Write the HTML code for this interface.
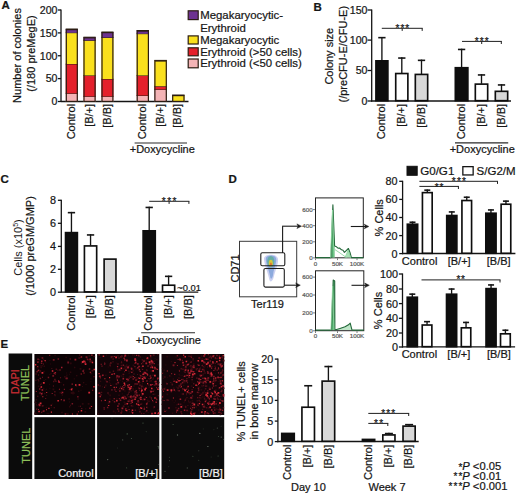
<!DOCTYPE html>
<html><head><meta charset="utf-8"><title>Figure</title>
<style>
html,body{margin:0;padding:0;background:#ffffff;}
body{width:520px;height:495px;overflow:hidden;}
svg{display:block;font-family:"Liberation Sans", sans-serif;}

</style></head><body>
<svg width="520" height="495" viewBox="0 0 520 495">
<rect x="0" y="0" width="520" height="495" fill="#ffffff"/>
<text x="1.60" y="9.30" font-size="11.5" text-anchor="start" fill="#161616" font-weight="bold" stroke="#161616" stroke-width="0.22">A</text>
<line x1="61.00" y1="9.45" x2="61.00" y2="102.05" stroke="#141414" stroke-width="1.3"/>
<line x1="57.80" y1="10.00" x2="61.00" y2="10.00" stroke="#141414" stroke-width="1.3"/>
<text x="57.50" y="13.84" font-size="10.6" text-anchor="end" fill="#161616"  stroke="#161616" stroke-width="0.22">200</text>
<line x1="57.80" y1="32.90" x2="61.00" y2="32.90" stroke="#141414" stroke-width="1.3"/>
<text x="57.50" y="36.74" font-size="10.6" text-anchor="end" fill="#161616"  stroke="#161616" stroke-width="0.22">150</text>
<line x1="57.80" y1="55.75" x2="61.00" y2="55.75" stroke="#141414" stroke-width="1.3"/>
<text x="57.50" y="59.59" font-size="10.6" text-anchor="end" fill="#161616"  stroke="#161616" stroke-width="0.22">100</text>
<line x1="57.80" y1="78.60" x2="61.00" y2="78.60" stroke="#141414" stroke-width="1.3"/>
<text x="57.50" y="82.44" font-size="10.6" text-anchor="end" fill="#161616"  stroke="#161616" stroke-width="0.22">50</text>
<line x1="57.80" y1="101.50" x2="61.00" y2="101.50" stroke="#141414" stroke-width="1.3"/>
<text x="57.50" y="105.34" font-size="10.6" text-anchor="end" fill="#161616"  stroke="#161616" stroke-width="0.22">0</text>
<line x1="61.00" y1="101.50" x2="188.50" y2="101.50" stroke="#141414" stroke-width="1.3"/>
<rect x="65.70" y="93.40" width="12.20" height="8.10" fill="#f4b4b6" />
<line x1="65.70" y1="93.40" x2="77.90" y2="93.40" stroke="#2b1c12" stroke-width="1"/>
<rect x="65.70" y="64.00" width="12.20" height="29.40" fill="#e4202b" />
<line x1="65.70" y1="64.00" x2="77.90" y2="64.00" stroke="#2b1c12" stroke-width="1"/>
<rect x="65.70" y="32.70" width="12.20" height="31.30" fill="#fae01d" />
<line x1="65.70" y1="32.70" x2="77.90" y2="32.70" stroke="#2b1c12" stroke-width="1"/>
<rect x="65.70" y="29.00" width="12.20" height="3.70" fill="#6d3290" />
<line x1="65.70" y1="29.00" x2="77.90" y2="29.00" stroke="#2b1c12" stroke-width="1"/>
<rect x="66.30" y="29.60" width="11.00" height="71.80" fill="none" stroke="#2b1c12" stroke-width="1.2"/>
<rect x="83.40" y="96.40" width="12.30" height="5.10" fill="#f4b4b6" />
<line x1="83.40" y1="96.40" x2="95.70" y2="96.40" stroke="#2b1c12" stroke-width="1"/>
<rect x="83.40" y="75.40" width="12.30" height="21.00" fill="#e4202b" />
<line x1="83.40" y1="75.40" x2="95.70" y2="75.40" stroke="#2b1c12" stroke-width="1"/>
<rect x="83.40" y="40.40" width="12.30" height="35.00" fill="#fae01d" />
<line x1="83.40" y1="40.40" x2="95.70" y2="40.40" stroke="#2b1c12" stroke-width="1"/>
<rect x="83.40" y="37.20" width="12.30" height="3.20" fill="#6d3290" />
<line x1="83.40" y1="37.20" x2="95.70" y2="37.20" stroke="#2b1c12" stroke-width="1"/>
<rect x="84.00" y="37.80" width="11.10" height="63.60" fill="none" stroke="#2b1c12" stroke-width="1.2"/>
<rect x="101.40" y="96.40" width="12.10" height="5.10" fill="#f4b4b6" />
<line x1="101.40" y1="96.40" x2="113.50" y2="96.40" stroke="#2b1c12" stroke-width="1"/>
<rect x="101.40" y="79.00" width="12.10" height="17.40" fill="#e4202b" />
<line x1="101.40" y1="79.00" x2="113.50" y2="79.00" stroke="#2b1c12" stroke-width="1"/>
<rect x="101.40" y="37.50" width="12.10" height="41.50" fill="#fae01d" />
<line x1="101.40" y1="37.50" x2="113.50" y2="37.50" stroke="#2b1c12" stroke-width="1"/>
<rect x="101.40" y="32.00" width="12.10" height="5.50" fill="#6d3290" />
<line x1="101.40" y1="32.00" x2="113.50" y2="32.00" stroke="#2b1c12" stroke-width="1"/>
<rect x="102.00" y="32.60" width="10.90" height="68.80" fill="none" stroke="#2b1c12" stroke-width="1.2"/>
<rect x="136.60" y="95.50" width="12.40" height="6.00" fill="#f4b4b6" />
<line x1="136.60" y1="95.50" x2="149.00" y2="95.50" stroke="#2b1c12" stroke-width="1"/>
<rect x="136.60" y="75.40" width="12.40" height="20.10" fill="#e4202b" />
<line x1="136.60" y1="75.40" x2="149.00" y2="75.40" stroke="#2b1c12" stroke-width="1"/>
<rect x="136.60" y="33.70" width="12.40" height="41.70" fill="#fae01d" />
<line x1="136.60" y1="33.70" x2="149.00" y2="33.70" stroke="#2b1c12" stroke-width="1"/>
<rect x="136.60" y="30.50" width="12.40" height="3.20" fill="#6d3290" />
<line x1="136.60" y1="30.50" x2="149.00" y2="30.50" stroke="#2b1c12" stroke-width="1"/>
<rect x="137.20" y="31.10" width="11.20" height="70.30" fill="none" stroke="#2b1c12" stroke-width="1.2"/>
<rect x="154.30" y="89.40" width="12.60" height="12.10" fill="#f4b4b6" />
<line x1="154.30" y1="89.40" x2="166.90" y2="89.40" stroke="#2b1c12" stroke-width="1"/>
<rect x="154.30" y="86.20" width="12.60" height="3.20" fill="#e4202b" />
<line x1="154.30" y1="86.20" x2="166.90" y2="86.20" stroke="#2b1c12" stroke-width="1"/>
<rect x="154.30" y="60.40" width="12.60" height="25.80" fill="#fae01d" />
<line x1="154.30" y1="60.40" x2="166.90" y2="60.40" stroke="#2b1c12" stroke-width="1"/>
<rect x="154.90" y="61.00" width="11.40" height="40.40" fill="none" stroke="#2b1c12" stroke-width="1.2"/>
<rect x="172.10" y="95.00" width="12.50" height="6.50" fill="#fae01d" />
<line x1="172.10" y1="95.00" x2="184.60" y2="95.00" stroke="#2b1c12" stroke-width="1"/>
<rect x="172.70" y="95.60" width="11.30" height="5.80" fill="none" stroke="#2b1c12" stroke-width="1.2"/>
<text transform="translate(74.90,103.90) rotate(-90)" font-size="11" text-anchor="end" fill="#161616"  stroke="#161616" stroke-width="0.22">Control</text>
<text transform="translate(92.65,103.90) rotate(-90)" font-size="11" text-anchor="end" fill="#161616"  stroke="#161616" stroke-width="0.22">[B/+]</text>
<text transform="translate(110.55,103.90) rotate(-90)" font-size="11" text-anchor="end" fill="#161616"  stroke="#161616" stroke-width="0.22">[B/B]</text>
<text transform="translate(145.90,103.90) rotate(-90)" font-size="11" text-anchor="end" fill="#161616"  stroke="#161616" stroke-width="0.22">Control</text>
<text transform="translate(163.70,103.90) rotate(-90)" font-size="11" text-anchor="end" fill="#161616"  stroke="#161616" stroke-width="0.22">[B/+]</text>
<text transform="translate(181.45,103.90) rotate(-90)" font-size="11" text-anchor="end" fill="#161616"  stroke="#161616" stroke-width="0.22">[B/B]</text>
<line x1="134.60" y1="143.00" x2="187.00" y2="143.00" stroke="#2a2a2a" stroke-width="1.1"/>
<text x="162.30" y="152.70" font-size="11" text-anchor="middle" fill="#161616"  stroke="#161616" stroke-width="0.22">+Doxycycline</text>
<text transform="translate(21.30,55.50) rotate(-90)" font-size="11" text-anchor="middle" fill="#161616"  stroke="#161616" stroke-width="0.22">Number of colonies</text>
<text transform="translate(34.80,53.50) rotate(-90)" font-size="11" text-anchor="middle" fill="#161616"  stroke="#161616" stroke-width="0.22">(/180 preMegE)</text>
<rect x="188.20" y="10.80" width="10.00" height="8.80" fill="#6d3290" stroke="#2b1c12" stroke-width="1.2"/>
<rect x="188.20" y="35.90" width="10.00" height="8.10" fill="#fae01d" stroke="#2b1c12" stroke-width="1.2"/>
<rect x="188.20" y="47.80" width="10.00" height="8.00" fill="#e4202b" stroke="#2b1c12" stroke-width="1.2"/>
<rect x="188.20" y="59.00" width="10.00" height="8.80" fill="#f4b4b6" stroke="#2b1c12" stroke-width="1.2"/>
<text x="200.20" y="19.20" font-size="11.4" text-anchor="start" fill="#161616"  stroke="#161616" stroke-width="0.22">Megakaryocytic-</text>
<text x="200.20" y="31.80" font-size="11.4" text-anchor="start" fill="#161616"  stroke="#161616" stroke-width="0.22">Erythroid</text>
<text x="200.20" y="43.60" font-size="11.4" text-anchor="start" fill="#161616"  stroke="#161616" stroke-width="0.22">Megakaryocytic</text>
<text x="200.20" y="55.60" font-size="11.4" text-anchor="start" fill="#161616"  stroke="#161616" stroke-width="0.22">Erythroid (&gt;50 cells)</text>
<text x="200.20" y="67.10" font-size="11.4" text-anchor="start" fill="#161616"  stroke="#161616" stroke-width="0.22">Erythroid (&lt;50 cells)</text>
<text x="313.40" y="10.60" font-size="11.5" text-anchor="start" fill="#161616" font-weight="bold" stroke="#161616" stroke-width="0.22">B</text>
<line x1="371.70" y1="9.45" x2="371.70" y2="101.55" stroke="#141414" stroke-width="1.3"/>
<line x1="367.50" y1="10.00" x2="371.70" y2="10.00" stroke="#141414" stroke-width="1.3"/>
<text x="367.50" y="13.84" font-size="10.6" text-anchor="end" fill="#161616"  stroke="#161616" stroke-width="0.22">150</text>
<line x1="367.50" y1="40.10" x2="371.70" y2="40.10" stroke="#141414" stroke-width="1.3"/>
<text x="367.50" y="43.94" font-size="10.6" text-anchor="end" fill="#161616"  stroke="#161616" stroke-width="0.22">100</text>
<line x1="367.50" y1="70.50" x2="371.70" y2="70.50" stroke="#141414" stroke-width="1.3"/>
<text x="367.50" y="74.34" font-size="10.6" text-anchor="end" fill="#161616"  stroke="#161616" stroke-width="0.22">50</text>
<line x1="367.50" y1="101.00" x2="371.70" y2="101.00" stroke="#141414" stroke-width="1.3"/>
<text x="367.50" y="104.84" font-size="10.6" text-anchor="end" fill="#161616"  stroke="#161616" stroke-width="0.22">0</text>
<line x1="371.00" y1="101.00" x2="511.00" y2="101.00" stroke="#141414" stroke-width="1.4"/>
<line x1="381.90" y1="36.90" x2="381.90" y2="60.50" stroke="#141414" stroke-width="1.35"/>
<line x1="378.25" y1="37.65" x2="385.55" y2="37.65" stroke="#141414" stroke-width="1.6"/>
<rect x="375.93" y="60.83" width="11.95" height="39.85" fill="#0e0e0e" stroke="#0e0e0e" stroke-width="1.65"/>
<line x1="401.80" y1="57.30" x2="401.80" y2="73.20" stroke="#141414" stroke-width="1.35"/>
<line x1="398.15" y1="58.05" x2="405.45" y2="58.05" stroke="#141414" stroke-width="1.6"/>
<rect x="395.72" y="73.53" width="12.15" height="27.15" fill="#ffffff" stroke="#0e0e0e" stroke-width="1.65"/>
<line x1="421.50" y1="59.60" x2="421.50" y2="74.10" stroke="#141414" stroke-width="1.35"/>
<line x1="417.85" y1="60.35" x2="425.15" y2="60.35" stroke="#141414" stroke-width="1.6"/>
<rect x="415.32" y="74.42" width="12.35" height="26.25" fill="#d8d8d8" stroke="#0e0e0e" stroke-width="1.65"/>
<line x1="461.60" y1="48.70" x2="461.60" y2="67.40" stroke="#141414" stroke-width="1.35"/>
<line x1="457.95" y1="49.45" x2="465.25" y2="49.45" stroke="#141414" stroke-width="1.6"/>
<rect x="455.32" y="67.73" width="12.55" height="32.95" fill="#0e0e0e" stroke="#0e0e0e" stroke-width="1.65"/>
<line x1="481.50" y1="74.20" x2="481.50" y2="83.80" stroke="#141414" stroke-width="1.35"/>
<line x1="477.85" y1="74.95" x2="485.15" y2="74.95" stroke="#141414" stroke-width="1.6"/>
<rect x="475.32" y="84.12" width="12.35" height="16.55" fill="#ffffff" stroke="#0e0e0e" stroke-width="1.65"/>
<line x1="501.50" y1="84.20" x2="501.50" y2="91.00" stroke="#141414" stroke-width="1.35"/>
<line x1="497.85" y1="84.95" x2="505.15" y2="84.95" stroke="#141414" stroke-width="1.6"/>
<rect x="495.32" y="91.33" width="12.35" height="9.35" fill="#d8d8d8" stroke="#0e0e0e" stroke-width="1.65"/>
<text transform="translate(385.00,103.90) rotate(-90)" font-size="11" text-anchor="end" fill="#161616"  stroke="#161616" stroke-width="0.22">Control</text>
<text transform="translate(404.90,103.90) rotate(-90)" font-size="11" text-anchor="end" fill="#161616"  stroke="#161616" stroke-width="0.22">[B/+]</text>
<text transform="translate(424.60,103.90) rotate(-90)" font-size="11" text-anchor="end" fill="#161616"  stroke="#161616" stroke-width="0.22">[B/B]</text>
<text transform="translate(464.70,103.90) rotate(-90)" font-size="11" text-anchor="end" fill="#161616"  stroke="#161616" stroke-width="0.22">Control</text>
<text transform="translate(484.60,103.90) rotate(-90)" font-size="11" text-anchor="end" fill="#161616"  stroke="#161616" stroke-width="0.22">[B/+]</text>
<text transform="translate(504.60,103.90) rotate(-90)" font-size="11" text-anchor="end" fill="#161616"  stroke="#161616" stroke-width="0.22">[B/B]</text>
<line x1="381.80" y1="28.30" x2="422.70" y2="28.30" stroke="#1e1e1e" stroke-width="1"/>
<line x1="422.20" y1="28.30" x2="422.20" y2="30.90" stroke="#1e1e1e" stroke-width="1"/>
<line x1="402.20" y1="28.30" x2="402.20" y2="30.90" stroke="#1e1e1e" stroke-width="1"/>
<text x="397.45" y="32.18" font-size="10" text-anchor="middle" fill="#161616"  stroke="#161616" stroke-width="0.22">*</text>
<text x="402.35" y="32.18" font-size="10" text-anchor="middle" fill="#161616"  stroke="#161616" stroke-width="0.22">*</text>
<text x="407.25" y="32.18" font-size="10" text-anchor="middle" fill="#161616"  stroke="#161616" stroke-width="0.22">*</text>
<line x1="462.00" y1="41.40" x2="501.80" y2="41.40" stroke="#1e1e1e" stroke-width="1"/>
<line x1="501.30" y1="41.40" x2="501.30" y2="44.00" stroke="#1e1e1e" stroke-width="1"/>
<line x1="481.70" y1="41.40" x2="481.70" y2="44.00" stroke="#1e1e1e" stroke-width="1"/>
<text x="476.75" y="45.43" font-size="10" text-anchor="middle" fill="#161616"  stroke="#161616" stroke-width="0.22">*</text>
<text x="481.75" y="45.43" font-size="10" text-anchor="middle" fill="#161616"  stroke="#161616" stroke-width="0.22">*</text>
<text x="486.75" y="45.43" font-size="10" text-anchor="middle" fill="#161616"  stroke="#161616" stroke-width="0.22">*</text>
<line x1="455.00" y1="142.90" x2="508.20" y2="142.90" stroke="#2a2a2a" stroke-width="1.1"/>
<text x="482.20" y="152.70" font-size="11" text-anchor="middle" fill="#161616"  stroke="#161616" stroke-width="0.22">+Doxycycline</text>
<text transform="translate(333.30,56.20) rotate(-90)" font-size="11" text-anchor="middle" fill="#161616"  stroke="#161616" stroke-width="0.22">Colony size</text>
<text transform="translate(346.70,54.20) rotate(-90)" font-size="11" text-anchor="middle" fill="#161616"  stroke="#161616" stroke-width="0.22">(/preCFU-E/CFU-E)</text>
<text x="0.40" y="182.70" font-size="11.5" text-anchor="start" fill="#161616" font-weight="bold" stroke="#161616" stroke-width="0.22">C</text>
<line x1="61.30" y1="199.75" x2="61.30" y2="292.75" stroke="#141414" stroke-width="1.3"/>
<line x1="57.90" y1="200.30" x2="61.30" y2="200.30" stroke="#141414" stroke-width="1.3"/>
<text x="56.10" y="204.21" font-size="10.8" text-anchor="end" fill="#161616"  stroke="#161616" stroke-width="0.22">8</text>
<line x1="57.90" y1="223.30" x2="61.30" y2="223.30" stroke="#141414" stroke-width="1.3"/>
<text x="56.10" y="227.21" font-size="10.8" text-anchor="end" fill="#161616"  stroke="#161616" stroke-width="0.22">6</text>
<line x1="57.90" y1="246.40" x2="61.30" y2="246.40" stroke="#141414" stroke-width="1.3"/>
<text x="56.10" y="250.31" font-size="10.8" text-anchor="end" fill="#161616"  stroke="#161616" stroke-width="0.22">4</text>
<line x1="57.90" y1="269.30" x2="61.30" y2="269.30" stroke="#141414" stroke-width="1.3"/>
<text x="56.10" y="273.21" font-size="10.8" text-anchor="end" fill="#161616"  stroke="#161616" stroke-width="0.22">2</text>
<line x1="57.90" y1="292.20" x2="61.30" y2="292.20" stroke="#141414" stroke-width="1.3"/>
<text x="56.10" y="296.11" font-size="10.8" text-anchor="end" fill="#161616"  stroke="#161616" stroke-width="0.22">0</text>
<line x1="61.30" y1="292.20" x2="198.30" y2="292.20" stroke="#141414" stroke-width="1.3"/>
<line x1="71.45" y1="211.90" x2="71.45" y2="232.30" stroke="#141414" stroke-width="1.35"/>
<line x1="67.80" y1="212.65" x2="75.10" y2="212.65" stroke="#141414" stroke-width="1.6"/>
<rect x="65.53" y="232.62" width="11.85" height="59.25" fill="#0e0e0e" stroke="#0e0e0e" stroke-width="1.65"/>
<line x1="90.55" y1="234.20" x2="90.55" y2="245.60" stroke="#141414" stroke-width="1.35"/>
<line x1="86.90" y1="234.95" x2="94.20" y2="234.95" stroke="#141414" stroke-width="1.6"/>
<rect x="84.42" y="245.92" width="12.25" height="45.95" fill="#ffffff" stroke="#0e0e0e" stroke-width="1.65"/>
<rect x="104.12" y="259.12" width="11.85" height="32.75" fill="#d8d8d8" stroke="#0e0e0e" stroke-width="1.65"/>
<line x1="149.20" y1="206.70" x2="149.20" y2="230.50" stroke="#141414" stroke-width="1.35"/>
<line x1="145.55" y1="207.45" x2="152.85" y2="207.45" stroke="#141414" stroke-width="1.6"/>
<rect x="143.12" y="230.82" width="12.15" height="61.05" fill="#0e0e0e" stroke="#0e0e0e" stroke-width="1.65"/>
<line x1="168.60" y1="275.60" x2="168.60" y2="284.90" stroke="#141414" stroke-width="1.35"/>
<line x1="164.95" y1="276.35" x2="172.25" y2="276.35" stroke="#141414" stroke-width="1.6"/>
<rect x="162.52" y="285.22" width="12.15" height="6.65" fill="#ffffff" stroke="#0e0e0e" stroke-width="1.65"/>
<text transform="translate(74.55,295.20) rotate(-90)" font-size="11" text-anchor="end" fill="#161616"  stroke="#161616" stroke-width="0.22">Control</text>
<text transform="translate(93.65,295.20) rotate(-90)" font-size="11" text-anchor="end" fill="#161616"  stroke="#161616" stroke-width="0.22">[B/+]</text>
<text transform="translate(113.15,295.20) rotate(-90)" font-size="11" text-anchor="end" fill="#161616"  stroke="#161616" stroke-width="0.22">[B/B]</text>
<text transform="translate(152.30,295.20) rotate(-90)" font-size="11" text-anchor="end" fill="#161616"  stroke="#161616" stroke-width="0.22">Control</text>
<text transform="translate(171.70,295.20) rotate(-90)" font-size="11" text-anchor="end" fill="#161616"  stroke="#161616" stroke-width="0.22">[B/+]</text>
<text transform="translate(191.70,295.20) rotate(-90)" font-size="11" text-anchor="end" fill="#161616"  stroke="#161616" stroke-width="0.22">[B/B]</text>
<text x="177.20" y="291.20" font-size="9.4" text-anchor="start" fill="#161616"  stroke="#161616" stroke-width="0.22">~0.01</text>
<line x1="149.20" y1="201.30" x2="189.40" y2="201.30" stroke="#1e1e1e" stroke-width="1"/>
<line x1="188.90" y1="201.30" x2="188.90" y2="203.90" stroke="#1e1e1e" stroke-width="1"/>
<line x1="169.10" y1="201.30" x2="169.10" y2="203.90" stroke="#1e1e1e" stroke-width="1"/>
<text x="163.70" y="205.33" font-size="10" text-anchor="middle" fill="#161616"  stroke="#161616" stroke-width="0.22">*</text>
<text x="169.10" y="205.33" font-size="10" text-anchor="middle" fill="#161616"  stroke="#161616" stroke-width="0.22">*</text>
<text x="174.50" y="205.33" font-size="10" text-anchor="middle" fill="#161616"  stroke="#161616" stroke-width="0.22">*</text>
<line x1="141.20" y1="332.80" x2="195.00" y2="332.80" stroke="#2a2a2a" stroke-width="1.1"/>
<text x="168.40" y="344.10" font-size="11" text-anchor="middle" fill="#161616"  stroke="#161616" stroke-width="0.22">+Doxycycline</text>
<text transform="translate(21.5,247.5) rotate(-90)" font-size="11" text-anchor="middle" fill="#161616">Cells (x10<tspan font-size="7" dy="-4">5</tspan><tspan dy="4">)</tspan></text>
<text transform="translate(34.20,246.00) rotate(-90)" font-size="11" text-anchor="middle" fill="#161616"  stroke="#161616" stroke-width="0.22">(/1000 preGM/GMP)</text>
<text x="228.60" y="182.70" font-size="11.5" text-anchor="start" fill="#161616" font-weight="bold" stroke="#161616" stroke-width="0.22">D</text>
<rect x="239.50" y="241.30" width="57.20" height="55.50" fill="#ffffff" stroke="#3a3a3a" stroke-width="1.0"/>
<defs><filter id="bl" x="-50%" y="-50%" width="200%" height="200%"><feGaussianBlur stdDeviation="0.7"/></filter></defs>
<g filter="url(#bl)"><path d="M264.0,259 C263.5,253.5 277.5,253 278,259 C278.5,264 275.5,270 274,276 C273,281.5 270,283.5 269.2,279 C268,273 264.3,265 264.0,259 Z" fill="#c3c9ee" opacity="0.85"/><path d="M265.8,258.5 C266,254.5 276,254.5 276.3,259 C276.6,263 274,268 273.2,274 C272.5,279 270.6,280.5 270,276 C269,270 265.8,264 265.8,258.5 Z" fill="#86a6dc" opacity="0.9"/><ellipse cx="270.8" cy="261.5" rx="3.6" ry="5.5" fill="#5fae9a" opacity="0.85"/><ellipse cx="270.8" cy="263.2" rx="2.0" ry="3.4" fill="#d6c83a"/><ellipse cx="270.9" cy="264.2" rx="1.0" ry="1.6" fill="#e07a30"/></g>
<rect x="260.8" y="252.8" width="24" height="13" rx="1.5" fill="none" stroke="#1e1e1e" stroke-width="1.1"/>
<rect x="263.9" y="268.5" width="20.4" height="18.6" rx="1.5" fill="none" stroke="#1e1e1e" stroke-width="1.1"/>
<line x1="282.60" y1="253.00" x2="282.60" y2="226.20" stroke="#1a1a1a" stroke-width="1.1"/>
<line x1="282.10" y1="226.20" x2="299.00" y2="226.20" stroke="#1a1a1a" stroke-width="1.1"/>
<path d="M301.50,226.20 L296.90,223.90 L298.19,226.20 L296.90,228.50 Z" fill="#1a1a1a" stroke="#1a1a1a" stroke-width="0.5" stroke-linejoin="round"/>
<line x1="284.30" y1="285.20" x2="297.80" y2="285.20" stroke="#1a1a1a" stroke-width="1.1"/>
<path d="M300.30,285.20 L295.70,282.90 L296.99,285.20 L295.70,287.50 Z" fill="#1a1a1a" stroke="#1a1a1a" stroke-width="0.5" stroke-linejoin="round"/>
<text transform="translate(238.60,268.50) rotate(-90)" font-size="11" text-anchor="middle" fill="#161616"  stroke="#161616" stroke-width="0.22">CD71</text>
<text x="267.50" y="307.50" font-size="11" text-anchor="middle" fill="#161616"  stroke="#161616" stroke-width="0.22">Ter119</text>
<rect x="315.50" y="197.90" width="47.80" height="59.90" fill="#ffffff" stroke="#222" stroke-width="1.0"/>
<line x1="313.00" y1="257.90" x2="315.00" y2="257.90" stroke="#5a5a5a" stroke-width="0.8"/>
<text x="312.70" y="260.10" font-size="6.2" text-anchor="end" fill="#5a5a5a"  stroke="#5a5a5a" stroke-width="0.22">0</text>
<line x1="313.00" y1="241.80" x2="315.00" y2="241.80" stroke="#5a5a5a" stroke-width="0.8"/>
<text x="312.70" y="244.00" font-size="6.2" text-anchor="end" fill="#5a5a5a"  stroke="#5a5a5a" stroke-width="0.22">200</text>
<line x1="313.00" y1="225.70" x2="315.00" y2="225.70" stroke="#5a5a5a" stroke-width="0.8"/>
<text x="312.70" y="227.90" font-size="6.2" text-anchor="end" fill="#5a5a5a"  stroke="#5a5a5a" stroke-width="0.22">400</text>
<line x1="313.00" y1="209.60" x2="315.00" y2="209.60" stroke="#5a5a5a" stroke-width="0.8"/>
<text x="312.70" y="211.80" font-size="6.2" text-anchor="end" fill="#5a5a5a"  stroke="#5a5a5a" stroke-width="0.22">600</text>
<line x1="315.50" y1="258.30" x2="315.50" y2="260.10" stroke="#5a5a5a" stroke-width="0.8"/>
<text x="315.50" y="265.50" font-size="6.2" text-anchor="middle" fill="#5a5a5a"  stroke="#5a5a5a" stroke-width="0.22">0</text>
<line x1="337.50" y1="258.30" x2="337.50" y2="260.10" stroke="#5a5a5a" stroke-width="0.8"/>
<text x="337.50" y="265.50" font-size="6.2" text-anchor="middle" fill="#5a5a5a"  stroke="#5a5a5a" stroke-width="0.22">50K</text>
<line x1="357.00" y1="258.30" x2="357.00" y2="260.10" stroke="#5a5a5a" stroke-width="0.8"/>
<text x="357.00" y="265.50" font-size="6.2" text-anchor="middle" fill="#5a5a5a"  stroke="#5a5a5a" stroke-width="0.22">100K</text>
<path d="M331.3,257.6 L332.9,204.8 L334.5,246 L334.5,257.6 Z" fill="#52b070"/>
<path d="M345.5,257.6 L348.4,248.6 L351.3,257.6 Z" fill="#a8e0b4"/>
<path d="M315.9,257.6 L331.0,257.6 L332.9,204.8 L334.6,246.0 L336.5,246.8 L338.0,248.2 L339.5,248.0 L341.5,249.8 L343.0,250.3 L344.4,252.4 L348.4,248.5 L350.0,252.5 L351.4,257.6 L363.3,257.6" fill="none" stroke="#24683a" stroke-width="1.1" stroke-linejoin="round"/>
<path d="M330.6,257.6 L332.5,210.0 L334.0,257.6" fill="none" stroke="#8fd6a0" stroke-width="0.9" stroke-linejoin="round"/>
<path d="M334.8,249.5 L340.0,253.0 L346.5,257.6" fill="none" stroke="#8fd6a0" stroke-width="0.9" stroke-linejoin="round"/>
<path d="M345.0,257.6 L348.2,250.2 L350.6,257.6" fill="none" stroke="#8fd6a0" stroke-width="0.9" stroke-linejoin="round"/>
<rect x="315.50" y="270.80" width="48.30" height="59.90" fill="#ffffff" stroke="#222" stroke-width="1.0"/>
<line x1="313.00" y1="330.80" x2="315.00" y2="330.80" stroke="#5a5a5a" stroke-width="0.8"/>
<text x="312.70" y="333.00" font-size="6.2" text-anchor="end" fill="#5a5a5a"  stroke="#5a5a5a" stroke-width="0.22">0</text>
<line x1="313.00" y1="312.90" x2="315.00" y2="312.90" stroke="#5a5a5a" stroke-width="0.8"/>
<text x="312.70" y="315.10" font-size="6.2" text-anchor="end" fill="#5a5a5a"  stroke="#5a5a5a" stroke-width="0.22">200</text>
<line x1="313.00" y1="295.00" x2="315.00" y2="295.00" stroke="#5a5a5a" stroke-width="0.8"/>
<text x="312.70" y="297.20" font-size="6.2" text-anchor="end" fill="#5a5a5a"  stroke="#5a5a5a" stroke-width="0.22">400</text>
<line x1="313.00" y1="277.10" x2="315.00" y2="277.10" stroke="#5a5a5a" stroke-width="0.8"/>
<text x="312.70" y="279.30" font-size="6.2" text-anchor="end" fill="#5a5a5a"  stroke="#5a5a5a" stroke-width="0.22">600</text>
<line x1="315.50" y1="331.20" x2="315.50" y2="333.00" stroke="#5a5a5a" stroke-width="0.8"/>
<text x="315.50" y="338.40" font-size="6.2" text-anchor="middle" fill="#5a5a5a"  stroke="#5a5a5a" stroke-width="0.22">0</text>
<line x1="337.50" y1="331.20" x2="337.50" y2="333.00" stroke="#5a5a5a" stroke-width="0.8"/>
<text x="337.50" y="338.40" font-size="6.2" text-anchor="middle" fill="#5a5a5a"  stroke="#5a5a5a" stroke-width="0.22">50K</text>
<line x1="357.00" y1="331.20" x2="357.00" y2="333.00" stroke="#5a5a5a" stroke-width="0.8"/>
<text x="357.00" y="338.40" font-size="6.2" text-anchor="middle" fill="#5a5a5a"  stroke="#5a5a5a" stroke-width="0.22">100K</text>
<path d="M331.6,330.1 L333.2,280.0 L334.7,281.0 L334.7,330.1 Z" fill="#52b070"/>
<path d="M335,330.1 L340,328.2 L345,326.5 L348.5,324.5 L350.2,323.1 L352,330.1 Z" fill="#bfe6c8"/>
<path d="M315.5,330.1 L331.4,330.1 L333.2,280.0 L334.7,281.0 L334.9,330.1 L340.0,328.4 L345.0,326.7 L348.5,324.8 L350.2,323.1 L352.0,330.1 L363.8,330.1" fill="none" stroke="#24683a" stroke-width="1.1" stroke-linejoin="round"/>
<path d="M331.0,330.1 L332.6,286.0 L333.9,330.1" fill="none" stroke="#8fd6a0" stroke-width="0.8" stroke-linejoin="round"/>
<line x1="350.80" y1="226.50" x2="366.30" y2="226.50" stroke="#1a1a1a" stroke-width="1.1"/>
<path d="M368.80,226.50 L364.20,224.20 L365.49,226.50 L364.20,228.80 Z" fill="#1a1a1a" stroke="#1a1a1a" stroke-width="0.5" stroke-linejoin="round"/>
<line x1="351.50" y1="285.30" x2="366.80" y2="285.30" stroke="#1a1a1a" stroke-width="1.1"/>
<path d="M369.30,285.30 L364.70,283.00 L365.99,285.30 L364.70,287.60 Z" fill="#1a1a1a" stroke="#1a1a1a" stroke-width="0.5" stroke-linejoin="round"/>
<rect x="407.00" y="166.30" width="10.20" height="9.00" fill="#121212" stroke="#121212" stroke-width="1"/>
<text x="420.20" y="175.00" font-size="11.6" text-anchor="start" fill="#161616"  stroke="#161616" stroke-width="0.22">G0/G1</text>
<rect x="462.85" y="166.65" width="10.30" height="8.30" fill="#ffffff" stroke="#141414" stroke-width="1.3"/>
<text x="476.60" y="175.00" font-size="11.5" text-anchor="start" fill="#161616"  stroke="#161616" stroke-width="0.22">S/G2/M</text>
<line x1="402.60" y1="180.75" x2="402.60" y2="254.15" stroke="#141414" stroke-width="1.3"/>
<line x1="399.20" y1="181.30" x2="402.60" y2="181.30" stroke="#141414" stroke-width="1.3"/>
<text x="397.40" y="185.21" font-size="10.8" text-anchor="end" fill="#161616"  stroke="#161616" stroke-width="0.22">80</text>
<line x1="399.20" y1="199.40" x2="402.60" y2="199.40" stroke="#141414" stroke-width="1.3"/>
<text x="397.40" y="203.31" font-size="10.8" text-anchor="end" fill="#161616"  stroke="#161616" stroke-width="0.22">60</text>
<line x1="399.20" y1="217.50" x2="402.60" y2="217.50" stroke="#141414" stroke-width="1.3"/>
<text x="397.40" y="221.41" font-size="10.8" text-anchor="end" fill="#161616"  stroke="#161616" stroke-width="0.22">40</text>
<line x1="399.20" y1="235.60" x2="402.60" y2="235.60" stroke="#141414" stroke-width="1.3"/>
<text x="397.40" y="239.51" font-size="10.8" text-anchor="end" fill="#161616"  stroke="#161616" stroke-width="0.22">20</text>
<line x1="399.20" y1="253.60" x2="402.60" y2="253.60" stroke="#141414" stroke-width="1.3"/>
<text x="397.40" y="257.51" font-size="10.8" text-anchor="end" fill="#161616"  stroke="#161616" stroke-width="0.22">0</text>
<line x1="402.00" y1="253.50" x2="515.40" y2="253.50" stroke="#141414" stroke-width="1.3"/>
<line x1="412.50" y1="221.50" x2="412.50" y2="223.90" stroke="#141414" stroke-width="1.35"/>
<line x1="409.50" y1="222.25" x2="415.50" y2="222.25" stroke="#141414" stroke-width="1.6"/>
<rect x="407.32" y="224.22" width="10.35" height="29.05" fill="#0e0e0e" stroke="#0e0e0e" stroke-width="1.65"/>
<line x1="427.30" y1="189.40" x2="427.30" y2="192.30" stroke="#141414" stroke-width="1.35"/>
<line x1="424.30" y1="190.15" x2="430.30" y2="190.15" stroke="#141414" stroke-width="1.6"/>
<rect x="422.43" y="192.62" width="9.75" height="60.65" fill="#ffffff" stroke="#0e0e0e" stroke-width="1.65"/>
<line x1="451.80" y1="211.20" x2="451.80" y2="215.20" stroke="#141414" stroke-width="1.35"/>
<line x1="448.80" y1="211.95" x2="454.80" y2="211.95" stroke="#141414" stroke-width="1.6"/>
<rect x="446.72" y="215.52" width="10.15" height="37.75" fill="#0e0e0e" stroke="#0e0e0e" stroke-width="1.65"/>
<line x1="466.75" y1="196.50" x2="466.75" y2="200.20" stroke="#141414" stroke-width="1.35"/>
<line x1="463.75" y1="197.25" x2="469.75" y2="197.25" stroke="#141414" stroke-width="1.6"/>
<rect x="461.93" y="200.52" width="9.65" height="52.75" fill="#ffffff" stroke="#0e0e0e" stroke-width="1.65"/>
<line x1="490.95" y1="209.20" x2="490.95" y2="212.90" stroke="#141414" stroke-width="1.35"/>
<line x1="487.95" y1="209.95" x2="493.95" y2="209.95" stroke="#141414" stroke-width="1.6"/>
<rect x="485.82" y="213.22" width="10.25" height="40.05" fill="#0e0e0e" stroke="#0e0e0e" stroke-width="1.65"/>
<line x1="505.95" y1="200.40" x2="505.95" y2="203.90" stroke="#141414" stroke-width="1.35"/>
<line x1="502.95" y1="201.15" x2="508.95" y2="201.15" stroke="#141414" stroke-width="1.6"/>
<rect x="501.12" y="204.22" width="9.65" height="49.05" fill="#ffffff" stroke="#0e0e0e" stroke-width="1.65"/>
<line x1="419.40" y1="181.30" x2="498.00" y2="181.30" stroke="#1e1e1e" stroke-width="1"/>
<line x1="497.50" y1="181.30" x2="497.50" y2="183.90" stroke="#1e1e1e" stroke-width="1"/>
<text x="453.80" y="185.43" font-size="10" text-anchor="middle" fill="#161616"  stroke="#161616" stroke-width="0.22">*</text>
<text x="458.90" y="185.43" font-size="10" text-anchor="middle" fill="#161616"  stroke="#161616" stroke-width="0.22">*</text>
<text x="464.00" y="185.43" font-size="10" text-anchor="middle" fill="#161616"  stroke="#161616" stroke-width="0.22">*</text>
<line x1="419.40" y1="186.40" x2="458.90" y2="186.40" stroke="#1e1e1e" stroke-width="1"/>
<line x1="458.40" y1="186.40" x2="458.40" y2="189.00" stroke="#1e1e1e" stroke-width="1"/>
<text x="436.70" y="190.73" font-size="10" text-anchor="middle" fill="#161616"  stroke="#161616" stroke-width="0.22">*</text>
<text x="441.50" y="190.73" font-size="10" text-anchor="middle" fill="#161616"  stroke="#161616" stroke-width="0.22">*</text>
<text x="419.60" y="264.60" font-size="11" text-anchor="middle" fill="#161616"  stroke="#161616" stroke-width="0.22">Control</text>
<text x="459.20" y="264.60" font-size="11" text-anchor="middle" fill="#161616"  stroke="#161616" stroke-width="0.22">[B/+]</text>
<text x="498.70" y="264.60" font-size="11" text-anchor="middle" fill="#161616"  stroke="#161616" stroke-width="0.22">[B/B]</text>
<text transform="translate(382.80,217.80) rotate(-90)" font-size="11" text-anchor="middle" fill="#161616"  stroke="#161616" stroke-width="0.22">% Cells</text>
<line x1="402.50" y1="273.45" x2="402.50" y2="347.55" stroke="#141414" stroke-width="1.3"/>
<line x1="398.90" y1="274.00" x2="402.50" y2="274.00" stroke="#141414" stroke-width="1.3"/>
<text x="397.90" y="277.91" font-size="10.8" text-anchor="end" fill="#161616"  stroke="#161616" stroke-width="0.22">100</text>
<line x1="398.90" y1="289.00" x2="402.50" y2="289.00" stroke="#141414" stroke-width="1.3"/>
<text x="397.90" y="292.91" font-size="10.8" text-anchor="end" fill="#161616"  stroke="#161616" stroke-width="0.22">80</text>
<line x1="398.90" y1="303.60" x2="402.50" y2="303.60" stroke="#141414" stroke-width="1.3"/>
<text x="397.90" y="307.51" font-size="10.8" text-anchor="end" fill="#161616"  stroke="#161616" stroke-width="0.22">60</text>
<line x1="398.90" y1="318.30" x2="402.50" y2="318.30" stroke="#141414" stroke-width="1.3"/>
<text x="397.90" y="322.21" font-size="10.8" text-anchor="end" fill="#161616"  stroke="#161616" stroke-width="0.22">40</text>
<line x1="398.90" y1="333.00" x2="402.50" y2="333.00" stroke="#141414" stroke-width="1.3"/>
<text x="397.90" y="336.91" font-size="10.8" text-anchor="end" fill="#161616"  stroke="#161616" stroke-width="0.22">20</text>
<line x1="398.90" y1="347.00" x2="402.50" y2="347.00" stroke="#141414" stroke-width="1.3"/>
<text x="397.90" y="350.91" font-size="10.8" text-anchor="end" fill="#161616"  stroke="#161616" stroke-width="0.22">0</text>
<line x1="402.00" y1="346.90" x2="515.10" y2="346.90" stroke="#141414" stroke-width="1.3"/>
<line x1="412.30" y1="293.40" x2="412.30" y2="296.90" stroke="#141414" stroke-width="1.35"/>
<line x1="409.30" y1="294.15" x2="415.30" y2="294.15" stroke="#141414" stroke-width="1.6"/>
<rect x="407.22" y="297.22" width="10.15" height="49.45" fill="#0e0e0e" stroke="#0e0e0e" stroke-width="1.65"/>
<line x1="427.05" y1="320.90" x2="427.05" y2="324.70" stroke="#141414" stroke-width="1.35"/>
<line x1="424.05" y1="321.65" x2="430.05" y2="321.65" stroke="#141414" stroke-width="1.6"/>
<rect x="422.22" y="325.02" width="9.65" height="21.65" fill="#ffffff" stroke="#0e0e0e" stroke-width="1.65"/>
<line x1="451.60" y1="288.30" x2="451.60" y2="293.90" stroke="#141414" stroke-width="1.35"/>
<line x1="448.60" y1="289.05" x2="454.60" y2="289.05" stroke="#141414" stroke-width="1.6"/>
<rect x="446.52" y="294.22" width="10.15" height="52.45" fill="#0e0e0e" stroke="#0e0e0e" stroke-width="1.65"/>
<line x1="466.05" y1="321.70" x2="466.05" y2="327.50" stroke="#141414" stroke-width="1.35"/>
<line x1="463.05" y1="322.45" x2="469.05" y2="322.45" stroke="#141414" stroke-width="1.6"/>
<rect x="461.32" y="327.82" width="9.45" height="18.85" fill="#ffffff" stroke="#0e0e0e" stroke-width="1.65"/>
<line x1="491.05" y1="284.20" x2="491.05" y2="288.30" stroke="#141414" stroke-width="1.35"/>
<line x1="488.05" y1="284.95" x2="494.05" y2="284.95" stroke="#141414" stroke-width="1.6"/>
<rect x="486.02" y="288.62" width="10.05" height="58.05" fill="#0e0e0e" stroke="#0e0e0e" stroke-width="1.65"/>
<line x1="505.40" y1="329.50" x2="505.40" y2="333.50" stroke="#141414" stroke-width="1.35"/>
<line x1="502.40" y1="330.25" x2="508.40" y2="330.25" stroke="#141414" stroke-width="1.6"/>
<rect x="500.52" y="333.82" width="9.75" height="12.85" fill="#ffffff" stroke="#0e0e0e" stroke-width="1.65"/>
<line x1="421.50" y1="279.90" x2="500.50" y2="279.90" stroke="#1e1e1e" stroke-width="1"/>
<line x1="500.00" y1="279.90" x2="500.00" y2="282.50" stroke="#1e1e1e" stroke-width="1"/>
<text x="458.40" y="282.73" font-size="10" text-anchor="middle" fill="#161616"  stroke="#161616" stroke-width="0.22">*</text>
<text x="463.00" y="282.73" font-size="10" text-anchor="middle" fill="#161616"  stroke="#161616" stroke-width="0.22">*</text>
<text x="419.40" y="358.30" font-size="11" text-anchor="middle" fill="#161616"  stroke="#161616" stroke-width="0.22">Control</text>
<text x="458.80" y="358.30" font-size="11" text-anchor="middle" fill="#161616"  stroke="#161616" stroke-width="0.22">[B/+]</text>
<text x="498.90" y="358.30" font-size="11" text-anchor="middle" fill="#161616"  stroke="#161616" stroke-width="0.22">[B/B]</text>
<text transform="translate(381.50,310.50) rotate(-90)" font-size="11" text-anchor="middle" fill="#161616"  stroke="#161616" stroke-width="0.22">% Cells</text>
<text x="0.40" y="348.30" font-size="11.5" text-anchor="start" fill="#161616" font-weight="bold" stroke="#161616" stroke-width="0.22">E</text>
<rect x="8.60" y="353.50" width="23.60" height="125.50" fill="#0b0b0b" />
<rect x="34.40" y="354.00" width="60.70" height="61.00" fill="#0c0305" />
<path d="M82.0 385.9h1.0v1.0h-1.0zM73.6 392.7h1.0v1.0h-1.0zM43.9 392.8h1.5v1.5h-1.5zM43.2 404.9h1.0v1.0h-1.0zM54.3 354.7h1.5v1.5h-1.5zM86.3 356.8h1.0v1.0h-1.0zM36.7 366.7h1.8v1.8h-1.8zM46.0 388.7h1.0v1.0h-1.0zM84.5 359.7h1.2v1.2h-1.2zM34.6 401.6h1.5v1.5h-1.5zM35.2 373.1h1.8v1.8h-1.8zM69.2 388.9h1.0v1.0h-1.0zM39.6 356.8h1.0v1.0h-1.0zM37.5 382.6h1.0v1.0h-1.0zM48.2 413.0h1.2v1.2h-1.2zM43.5 365.5h1.5v1.5h-1.5zM43.6 380.1h1.2v1.2h-1.2zM66.2 375.8h1.0v1.0h-1.0zM49.1 383.8h1.0v1.0h-1.0zM90.3 378.3h1.2v1.2h-1.2zM61.2 411.8h1.5v1.5h-1.5zM35.6 379.6h1.0v1.0h-1.0zM34.4 412.6h1.8v1.8h-1.8zM69.8 371.5h1.5v1.5h-1.5zM93.6 355.8h1.5v1.5h-1.5zM68.9 406.0h1.5v1.5h-1.5zM68.4 398.3h1.5v1.5h-1.5zM35.7 398.9h1.5v1.5h-1.5zM73.9 366.7h1.5v1.5h-1.5zM69.1 373.8h1.0v1.0h-1.0zM61.6 394.3h1.5v1.5h-1.5zM36.2 404.8h1.5v1.5h-1.5zM88.5 354.9h1.8v1.8h-1.8zM60.8 391.6h1.2v1.2h-1.2zM50.4 372.8h1.2v1.2h-1.2zM52.2 403.6h1.0v1.0h-1.0zM45.7 406.7h1.2v1.2h-1.2zM69.9 362.5h1.8v1.8h-1.8zM74.0 392.4h1.2v1.2h-1.2zM69.0 401.4h1.0v1.0h-1.0zM80.8 362.8h1.5v1.5h-1.5zM73.7 378.3h1.2v1.2h-1.2zM60.2 381.9h1.2v1.2h-1.2zM85.1 408.3h1.2v1.2h-1.2zM42.9 387.7h1.0v1.0h-1.0zM49.4 387.8h1.0v1.0h-1.0zM90.4 372.4h1.8v1.8h-1.8zM87.8 359.4h1.2v1.2h-1.2zM88.9 360.5h1.0v1.0h-1.0zM90.2 405.5h1.5v1.5h-1.5zM79.8 357.0h1.2v1.2h-1.2zM37.8 360.8h1.0v1.0h-1.0zM42.7 358.8h1.5v1.5h-1.5zM45.5 362.3h1.0v1.0h-1.0zM35.8 404.1h1.2v1.2h-1.2zM81.8 402.9h1.8v1.8h-1.8zM52.5 388.5h1.8v1.8h-1.8zM40.2 366.5h1.8v1.8h-1.8zM85.5 384.1h1.0v1.0h-1.0zM40.6 382.8h1.5v1.5h-1.5zM46.0 394.8h1.2v1.2h-1.2zM78.2 405.8h1.0v1.0h-1.0zM45.1 378.9h1.2v1.2h-1.2zM50.7 406.5h1.2v1.2h-1.2zM46.6 412.8h1.2v1.2h-1.2zM87.7 403.0h1.8v1.8h-1.8zM84.4 411.0h1.8v1.8h-1.8zM35.2 402.0h1.5v1.5h-1.5zM79.6 367.9h1.8v1.8h-1.8zM37.3 365.8h1.8v1.8h-1.8zM50.2 363.6h1.0v1.0h-1.0zM88.6 368.5h1.2v1.2h-1.2zM40.0 386.9h1.2v1.2h-1.2zM49.4 359.9h1.0v1.0h-1.0zM88.2 403.7h1.0v1.0h-1.0zM39.0 371.6h1.5v1.5h-1.5zM49.4 374.1h1.0v1.0h-1.0zM90.4 381.3h1.0v1.0h-1.0zM66.2 372.4h1.0v1.0h-1.0zM41.1 357.2h1.5v1.5h-1.5zM44.6 389.6h1.0v1.0h-1.0zM77.9 390.4h1.5v1.5h-1.5zM80.5 389.7h1.0v1.0h-1.0zM85.8 356.7h1.0v1.0h-1.0zM41.5 392.0h1.5v1.5h-1.5zM72.3 392.9h1.5v1.5h-1.5zM38.7 393.3h1.0v1.0h-1.0zM41.4 365.0h1.5v1.5h-1.5zM86.1 357.6h1.8v1.8h-1.8zM89.3 368.6h1.0v1.0h-1.0zM43.3 370.8h1.5v1.5h-1.5zM40.5 393.9h1.8v1.8h-1.8zM40.1 365.3h1.0v1.0h-1.0zM75.7 385.5h1.5v1.5h-1.5zM43.5 387.8h1.0v1.0h-1.0zM66.3 374.5h1.2v1.2h-1.2zM90.1 372.4h1.8v1.8h-1.8zM43.2 371.5h1.0v1.0h-1.0zM59.4 392.1h1.5v1.5h-1.5zM57.1 369.5h1.5v1.5h-1.5zM70.7 392.1h1.8v1.8h-1.8zM91.5 362.0h1.0v1.0h-1.0zM66.1 413.0h1.5v1.5h-1.5zM72.2 391.6h1.8v1.8h-1.8zM37.8 385.5h1.5v1.5h-1.5zM65.4 356.8h1.5v1.5h-1.5z" fill="#2c080d"/>
<path d="M43.1 410.1h1.8v1.8h-1.8zM67.6 413.5h1.0v1.0h-1.0zM69.6 358.3h1.5v1.5h-1.5zM89.5 359.5h1.5v1.5h-1.5zM39.7 370.3h1.5v1.5h-1.5zM83.2 382.2h1.0v1.0h-1.0zM89.5 361.0h1.5v1.5h-1.5zM55.2 380.5h1.5v1.5h-1.5zM54.1 391.1h1.5v1.5h-1.5zM55.0 374.1h1.0v1.0h-1.0zM41.7 405.0h1.8v1.8h-1.8zM35.4 379.9h1.0v1.0h-1.0zM41.6 357.0h1.0v1.0h-1.0zM45.1 360.5h1.0v1.0h-1.0zM93.7 356.0h1.0v1.0h-1.0zM65.2 377.7h1.5v1.5h-1.5zM36.4 413.5h1.0v1.0h-1.0zM71.3 389.9h1.0v1.0h-1.0zM91.5 369.7h1.8v1.8h-1.8zM54.6 395.3h1.0v1.0h-1.0zM78.4 357.3h1.5v1.5h-1.5zM55.6 368.6h1.5v1.5h-1.5zM77.6 398.5h1.0v1.0h-1.0zM54.2 394.0h1.2v1.2h-1.2zM76.3 375.3h1.0v1.0h-1.0zM53.0 380.8h1.5v1.5h-1.5zM69.9 404.8h1.0v1.0h-1.0zM63.0 384.3h1.2v1.2h-1.2zM40.2 384.1h1.2v1.2h-1.2zM64.3 376.3h1.2v1.2h-1.2zM39.2 359.2h1.0v1.0h-1.0zM86.1 363.5h1.0v1.0h-1.0zM38.1 380.3h1.2v1.2h-1.2zM51.3 368.0h1.0v1.0h-1.0zM54.0 378.8h1.8v1.8h-1.8z" fill="#4c0e17"/>
<path d="M88.8 368.2h1.5v1.5h-1.5zM63.8 388.8h1.2v1.2h-1.2zM41.5 389.6h1.0v1.0h-1.0zM53.7 407.3h1.0v1.0h-1.0zM37.3 358.4h1.5v1.5h-1.5zM47.7 376.8h1.5v1.5h-1.5zM53.5 372.7h1.5v1.5h-1.5zM79.2 354.6h1.0v1.0h-1.0zM71.6 403.0h1.5v1.5h-1.5zM86.9 358.8h1.5v1.5h-1.5zM85.6 356.3h1.8v1.8h-1.8zM42.0 376.8h1.0v1.0h-1.0zM77.1 396.1h1.5v1.5h-1.5zM41.8 357.2h1.5v1.5h-1.5zM45.2 398.0h1.0v1.0h-1.0zM36.3 371.0h1.5v1.5h-1.5zM71.3 388.0h1.5v1.5h-1.5zM37.6 379.2h1.0v1.0h-1.0zM79.8 405.7h1.0v1.0h-1.0zM60.1 377.3h1.0v1.0h-1.0zM39.4 392.3h1.5v1.5h-1.5zM52.3 375.0h1.8v1.8h-1.8zM67.3 361.6h1.8v1.8h-1.8zM42.6 410.6h1.5v1.5h-1.5zM64.6 413.2h1.5v1.5h-1.5zM83.3 369.4h1.0v1.0h-1.0zM63.2 399.5h1.8v1.8h-1.8zM89.1 407.5h1.5v1.5h-1.5zM52.9 385.5h1.0v1.0h-1.0zM37.3 395.7h1.0v1.0h-1.0zM82.3 370.2h1.8v1.8h-1.8zM42.9 363.5h1.0v1.0h-1.0zM60.9 392.8h1.0v1.0h-1.0zM52.8 358.9h1.8v1.8h-1.8zM38.1 374.5h1.0v1.0h-1.0zM81.3 408.0h1.0v1.0h-1.0zM39.6 377.8h1.5v1.5h-1.5zM49.1 354.7h1.2v1.2h-1.2zM66.0 377.4h1.8v1.8h-1.8zM39.0 388.3h1.5v1.5h-1.5zM83.6 361.0h1.5v1.5h-1.5zM37.9 369.4h1.5v1.5h-1.5zM57.6 358.3h1.5v1.5h-1.5zM40.8 362.6h1.5v1.5h-1.5zM36.1 408.5h1.2v1.2h-1.2z" fill="#721522"/>
<path d="M58.4 381.6h1.5v1.5h-1.5zM35.8 390.9h1.0v1.0h-1.0zM61.0 366.7h1.5v1.5h-1.5zM89.4 358.4h1.5v1.5h-1.5zM84.8 361.5h1.2v1.2h-1.2zM78.0 411.3h1.0v1.0h-1.0zM54.6 372.1h1.5v1.5h-1.5zM41.2 411.7h1.0v1.0h-1.0zM84.5 363.0h1.8v1.8h-1.8zM74.5 358.7h1.8v1.8h-1.8zM71.6 383.6h1.2v1.2h-1.2zM51.7 393.1h1.0v1.0h-1.0zM93.5 376.2h1.0v1.0h-1.0zM38.7 404.4h1.8v1.8h-1.8zM58.0 380.3h1.0v1.0h-1.0zM38.4 403.8h1.5v1.5h-1.5zM41.0 393.0h1.5v1.5h-1.5zM58.9 388.7h1.0v1.0h-1.0zM41.7 389.3h1.5v1.5h-1.5zM41.0 360.4h1.5v1.5h-1.5zM38.0 409.0h1.0v1.0h-1.0zM76.6 413.5h1.2v1.2h-1.2zM58.1 380.7h1.5v1.5h-1.5zM92.2 389.7h1.0v1.0h-1.0zM37.1 366.1h1.0v1.0h-1.0zM61.8 391.8h1.5v1.5h-1.5zM91.4 360.6h1.0v1.0h-1.0zM80.7 356.2h1.5v1.5h-1.5z" fill="#a01c2c"/>
<path d="M82.9 360.4h1.8v1.8h-1.8zM41.5 371.9h1.8v1.8h-1.8zM60.8 399.2h1.0v1.0h-1.0zM78.6 383.9h1.8v1.8h-1.8zM93.5 368.8h1.5v1.5h-1.5zM85.0 363.9h1.2v1.2h-1.2zM91.7 361.8h1.5v1.5h-1.5zM51.8 370.2h1.5v1.5h-1.5zM50.7 404.7h1.0v1.0h-1.0zM75.0 384.2h1.5v1.5h-1.5zM89.8 371.8h1.0v1.0h-1.0zM59.5 369.6h1.0v1.0h-1.0zM44.5 360.0h1.2v1.2h-1.2zM46.2 392.1h1.0v1.0h-1.0zM91.1 405.9h1.0v1.0h-1.0zM88.3 391.7h1.8v1.8h-1.8zM83.5 372.6h1.0v1.0h-1.0zM37.3 361.5h1.2v1.2h-1.2zM42.9 381.9h1.8v1.8h-1.8zM34.8 364.0h1.5v1.5h-1.5zM93.2 386.1h1.5v1.5h-1.5zM37.6 370.3h1.0v1.0h-1.0zM81.8 361.1h1.8v1.8h-1.8zM39.7 402.5h1.8v1.8h-1.8zM40.6 386.2h1.5v1.5h-1.5zM70.7 388.7h1.5v1.5h-1.5zM71.9 413.6h1.0v1.0h-1.0zM50.8 411.6h1.2v1.2h-1.2zM57.4 400.0h1.5v1.5h-1.5zM80.7 410.1h1.5v1.5h-1.5zM91.3 354.6h1.2v1.2h-1.2zM42.3 396.3h1.0v1.0h-1.0zM46.0 409.3h1.0v1.0h-1.0zM80.7 373.5h1.0v1.0h-1.0zM38.3 410.7h1.5v1.5h-1.5zM48.3 407.8h1.2v1.2h-1.2z" fill="#d42a36"/>
<rect x="34.40" y="417.20" width="60.70" height="61.80" fill="#0c0c0c" />
<rect x="97.10" y="354.00" width="62.20" height="61.00" fill="#110408" />
<path d="M137.7 406.8h1.5v1.5h-1.5zM156.2 358.9h1.5v1.5h-1.5zM110.5 358.0h1.2v1.2h-1.2zM157.1 409.1h1.5v1.5h-1.5zM150.8 360.3h1.5v1.5h-1.5zM152.2 388.5h1.0v1.0h-1.0zM150.4 390.7h1.0v1.0h-1.0zM109.3 363.0h1.0v1.0h-1.0zM120.5 375.2h1.5v1.5h-1.5zM129.4 388.8h1.5v1.5h-1.5zM115.7 362.4h1.0v1.0h-1.0zM107.6 402.2h1.8v1.8h-1.8zM97.4 412.9h1.8v1.8h-1.8zM147.4 400.7h1.5v1.5h-1.5zM149.4 395.7h1.2v1.2h-1.2zM139.5 374.8h1.2v1.2h-1.2zM102.1 386.2h1.0v1.0h-1.0zM125.7 397.4h1.0v1.0h-1.0zM109.6 365.6h1.5v1.5h-1.5zM117.3 383.9h1.0v1.0h-1.0zM108.2 394.1h1.0v1.0h-1.0zM133.9 354.4h1.5v1.5h-1.5zM139.7 375.5h1.0v1.0h-1.0zM141.3 368.2h1.5v1.5h-1.5zM118.7 369.1h1.5v1.5h-1.5zM154.6 358.0h1.0v1.0h-1.0zM128.1 402.4h1.5v1.5h-1.5zM134.0 383.2h1.8v1.8h-1.8zM153.1 389.5h1.5v1.5h-1.5zM130.4 398.7h1.5v1.5h-1.5zM148.6 386.5h1.2v1.2h-1.2zM157.9 381.8h1.5v1.5h-1.5zM120.0 411.9h1.5v1.5h-1.5zM150.2 391.3h1.5v1.5h-1.5zM122.7 368.0h1.5v1.5h-1.5zM124.3 378.1h1.2v1.2h-1.2zM137.2 363.6h1.0v1.0h-1.0zM104.9 384.6h1.8v1.8h-1.8zM154.0 360.6h1.2v1.2h-1.2zM129.5 387.8h1.5v1.5h-1.5zM128.4 365.0h1.5v1.5h-1.5zM135.7 402.8h1.8v1.8h-1.8zM117.1 355.1h1.8v1.8h-1.8zM150.2 410.6h1.2v1.2h-1.2zM105.9 354.6h1.2v1.2h-1.2zM147.7 412.1h1.0v1.0h-1.0zM142.8 363.1h1.0v1.0h-1.0zM142.2 407.2h1.0v1.0h-1.0zM150.4 370.6h1.5v1.5h-1.5zM143.7 359.5h1.5v1.5h-1.5zM141.3 377.8h1.5v1.5h-1.5zM152.9 413.6h1.0v1.0h-1.0zM129.9 370.7h1.0v1.0h-1.0zM125.5 367.4h1.5v1.5h-1.5zM117.0 368.0h1.0v1.0h-1.0zM129.5 371.6h1.0v1.0h-1.0zM128.7 375.7h1.2v1.2h-1.2zM132.3 369.7h1.8v1.8h-1.8zM136.2 378.2h1.8v1.8h-1.8zM139.0 368.2h1.2v1.2h-1.2zM138.9 374.2h1.5v1.5h-1.5zM122.4 376.6h1.5v1.5h-1.5zM139.6 397.4h1.2v1.2h-1.2zM120.0 379.7h1.0v1.0h-1.0zM149.1 380.5h1.5v1.5h-1.5zM146.0 405.4h1.5v1.5h-1.5zM150.0 374.5h1.5v1.5h-1.5zM140.8 402.7h1.8v1.8h-1.8zM107.7 366.5h1.0v1.0h-1.0zM151.8 378.2h1.8v1.8h-1.8zM123.7 373.8h1.2v1.2h-1.2zM115.8 398.3h1.8v1.8h-1.8zM152.8 365.4h1.0v1.0h-1.0zM137.8 369.5h1.2v1.2h-1.2zM131.7 405.2h1.8v1.8h-1.8zM121.6 396.3h1.0v1.0h-1.0zM155.2 396.5h1.5v1.5h-1.5zM112.8 410.4h1.8v1.8h-1.8zM149.0 396.1h1.8v1.8h-1.8zM149.3 386.5h1.0v1.0h-1.0zM132.6 364.4h1.8v1.8h-1.8zM122.5 375.6h1.5v1.5h-1.5zM128.4 372.4h1.5v1.5h-1.5zM120.0 399.7h1.5v1.5h-1.5zM132.6 389.7h1.2v1.2h-1.2zM157.4 383.8h1.5v1.5h-1.5zM135.3 367.8h1.8v1.8h-1.8zM121.7 393.2h1.2v1.2h-1.2zM114.9 412.3h1.2v1.2h-1.2zM131.9 354.2h1.5v1.5h-1.5zM128.9 411.2h1.2v1.2h-1.2zM142.1 383.5h1.0v1.0h-1.0zM146.1 385.6h1.0v1.0h-1.0zM124.9 402.5h1.8v1.8h-1.8zM140.0 396.8h1.8v1.8h-1.8zM155.5 384.6h1.8v1.8h-1.8zM138.9 397.7h1.8v1.8h-1.8zM141.7 407.4h1.8v1.8h-1.8zM99.2 384.9h1.8v1.8h-1.8zM109.2 398.3h1.5v1.5h-1.5zM142.8 386.3h1.5v1.5h-1.5zM141.1 392.2h1.5v1.5h-1.5zM124.1 366.4h1.8v1.8h-1.8zM145.6 359.9h1.2v1.2h-1.2zM121.1 366.4h1.5v1.5h-1.5zM109.3 394.5h1.8v1.8h-1.8zM118.3 394.6h1.5v1.5h-1.5zM154.0 393.6h1.5v1.5h-1.5zM148.0 384.1h1.8v1.8h-1.8zM140.3 384.3h1.2v1.2h-1.2zM126.0 364.2h1.5v1.5h-1.5zM126.9 402.8h1.5v1.5h-1.5zM146.7 407.1h1.5v1.5h-1.5zM152.5 367.7h1.5v1.5h-1.5zM142.9 388.1h1.0v1.0h-1.0zM108.7 381.9h1.0v1.0h-1.0zM126.8 388.5h1.0v1.0h-1.0zM138.5 376.9h1.8v1.8h-1.8zM145.6 361.3h1.5v1.5h-1.5zM144.8 410.7h1.8v1.8h-1.8zM120.6 362.0h1.8v1.8h-1.8zM117.2 377.3h1.5v1.5h-1.5zM123.8 368.1h1.5v1.5h-1.5zM132.5 398.8h1.8v1.8h-1.8zM148.7 400.4h1.5v1.5h-1.5zM98.5 396.2h1.0v1.0h-1.0zM127.9 379.8h1.8v1.8h-1.8zM123.2 395.2h1.8v1.8h-1.8zM105.1 374.5h1.5v1.5h-1.5zM150.0 392.5h1.0v1.0h-1.0zM138.6 408.5h1.5v1.5h-1.5zM109.8 383.3h1.2v1.2h-1.2zM130.3 389.9h1.8v1.8h-1.8zM157.5 363.9h1.5v1.5h-1.5zM125.0 366.2h1.8v1.8h-1.8zM136.4 394.2h1.0v1.0h-1.0zM127.7 354.2h1.5v1.5h-1.5zM124.5 354.8h1.0v1.0h-1.0zM120.0 369.5h1.5v1.5h-1.5zM143.0 391.1h1.5v1.5h-1.5zM146.5 370.1h1.5v1.5h-1.5zM135.8 394.2h1.5v1.5h-1.5zM127.8 370.2h1.8v1.8h-1.8zM117.4 408.5h1.8v1.8h-1.8zM150.7 387.3h1.0v1.0h-1.0zM146.8 399.4h1.8v1.8h-1.8zM132.2 388.0h1.8v1.8h-1.8zM136.6 400.1h1.5v1.5h-1.5zM117.7 388.9h1.2v1.2h-1.2zM99.3 356.7h1.5v1.5h-1.5zM139.0 355.7h1.2v1.2h-1.2zM121.9 380.8h1.2v1.2h-1.2zM138.1 382.8h1.8v1.8h-1.8zM143.4 408.7h1.0v1.0h-1.0zM121.3 356.7h1.0v1.0h-1.0zM135.3 388.4h1.0v1.0h-1.0zM130.5 396.0h1.8v1.8h-1.8zM147.6 365.0h1.8v1.8h-1.8zM149.4 390.0h1.5v1.5h-1.5zM117.5 370.5h1.0v1.0h-1.0zM123.5 401.5h1.5v1.5h-1.5zM139.1 378.1h1.2v1.2h-1.2zM108.9 379.7h1.5v1.5h-1.5zM143.5 405.9h1.0v1.0h-1.0zM150.2 380.3h1.5v1.5h-1.5zM131.4 375.1h1.5v1.5h-1.5zM137.1 402.5h1.8v1.8h-1.8zM141.7 365.8h1.5v1.5h-1.5zM149.9 356.7h1.8v1.8h-1.8zM149.0 364.1h1.5v1.5h-1.5zM139.7 381.8h1.2v1.2h-1.2zM153.2 364.8h1.0v1.0h-1.0zM100.1 385.2h1.0v1.0h-1.0zM147.5 358.4h1.8v1.8h-1.8zM144.8 371.3h1.2v1.2h-1.2zM141.7 382.4h1.2v1.2h-1.2zM121.1 386.5h1.0v1.0h-1.0zM157.2 410.5h1.2v1.2h-1.2zM127.5 405.9h1.5v1.5h-1.5zM138.1 355.2h1.8v1.8h-1.8zM152.6 402.3h1.0v1.0h-1.0zM127.3 396.0h1.8v1.8h-1.8zM154.2 389.3h1.0v1.0h-1.0zM136.2 376.8h1.0v1.0h-1.0zM126.9 379.6h1.0v1.0h-1.0zM105.3 380.1h1.5v1.5h-1.5zM120.9 368.5h1.5v1.5h-1.5zM120.2 390.3h1.2v1.2h-1.2zM120.3 397.8h1.0v1.0h-1.0zM131.6 396.7h1.0v1.0h-1.0zM112.5 383.7h1.0v1.0h-1.0zM153.0 407.4h1.0v1.0h-1.0zM144.6 398.9h1.0v1.0h-1.0zM129.4 375.6h1.2v1.2h-1.2zM154.5 360.3h1.0v1.0h-1.0zM151.5 372.6h1.0v1.0h-1.0zM147.4 384.1h1.0v1.0h-1.0zM124.2 390.2h1.5v1.5h-1.5zM132.2 377.0h1.2v1.2h-1.2zM111.7 372.9h1.5v1.5h-1.5zM120.6 400.2h1.0v1.0h-1.0zM148.7 378.1h1.8v1.8h-1.8zM133.3 385.2h1.5v1.5h-1.5z" fill="#2c080d"/>
<path d="M141.5 375.7h1.5v1.5h-1.5zM128.4 391.5h1.5v1.5h-1.5zM150.7 380.2h1.0v1.0h-1.0zM124.5 385.1h1.5v1.5h-1.5zM108.7 400.5h1.0v1.0h-1.0zM141.5 394.9h1.0v1.0h-1.0zM122.7 405.4h1.8v1.8h-1.8zM140.3 399.0h1.2v1.2h-1.2zM141.7 359.2h1.5v1.5h-1.5zM153.5 366.5h1.8v1.8h-1.8zM134.4 394.0h1.2v1.2h-1.2zM111.8 356.0h1.5v1.5h-1.5zM138.3 369.2h1.0v1.0h-1.0zM151.7 361.7h1.8v1.8h-1.8zM117.2 363.2h1.5v1.5h-1.5zM133.4 395.4h1.8v1.8h-1.8zM113.9 388.6h1.8v1.8h-1.8zM128.4 377.5h1.5v1.5h-1.5zM101.6 375.5h1.0v1.0h-1.0zM139.2 384.4h1.5v1.5h-1.5zM157.3 354.1h1.0v1.0h-1.0zM112.3 400.1h1.0v1.0h-1.0zM145.8 374.1h1.0v1.0h-1.0zM117.5 375.6h1.8v1.8h-1.8zM100.2 380.8h1.0v1.0h-1.0zM132.0 398.8h1.5v1.5h-1.5zM111.0 389.0h1.8v1.8h-1.8zM139.0 389.7h1.2v1.2h-1.2zM123.6 357.4h1.5v1.5h-1.5zM124.4 365.4h1.2v1.2h-1.2zM141.2 385.5h1.8v1.8h-1.8zM120.7 364.7h1.2v1.2h-1.2zM124.3 403.6h1.5v1.5h-1.5zM130.4 400.2h1.0v1.0h-1.0zM138.2 386.7h1.0v1.0h-1.0zM155.7 368.6h1.0v1.0h-1.0zM149.3 354.6h1.0v1.0h-1.0zM138.7 397.3h1.8v1.8h-1.8zM148.2 377.9h1.2v1.2h-1.2zM139.9 356.5h1.0v1.0h-1.0zM152.4 374.6h1.2v1.2h-1.2zM143.3 398.3h1.8v1.8h-1.8zM134.6 409.6h1.5v1.5h-1.5zM137.2 396.1h1.0v1.0h-1.0zM152.3 360.8h1.2v1.2h-1.2zM112.7 370.4h1.5v1.5h-1.5zM134.5 393.3h1.8v1.8h-1.8zM150.8 370.2h1.0v1.0h-1.0zM115.9 377.1h1.5v1.5h-1.5zM130.1 388.3h1.2v1.2h-1.2zM137.5 402.0h1.0v1.0h-1.0zM145.5 376.3h1.0v1.0h-1.0zM150.5 359.2h1.0v1.0h-1.0zM101.1 391.9h1.2v1.2h-1.2zM112.4 361.2h1.2v1.2h-1.2zM121.4 411.4h1.2v1.2h-1.2zM104.4 363.1h1.2v1.2h-1.2zM128.7 399.0h1.0v1.0h-1.0zM136.0 394.2h1.5v1.5h-1.5zM140.7 366.4h1.0v1.0h-1.0zM155.8 397.9h1.0v1.0h-1.0zM142.4 399.2h1.2v1.2h-1.2zM152.8 354.2h1.8v1.8h-1.8zM119.0 387.7h1.5v1.5h-1.5zM137.1 374.1h1.0v1.0h-1.0zM146.0 380.1h1.8v1.8h-1.8zM147.1 365.3h1.8v1.8h-1.8zM120.0 386.6h1.0v1.0h-1.0zM150.8 364.9h1.5v1.5h-1.5zM138.6 401.6h1.0v1.0h-1.0zM153.9 381.0h1.5v1.5h-1.5zM136.9 400.4h1.8v1.8h-1.8zM152.9 377.5h1.0v1.0h-1.0zM130.7 397.5h1.2v1.2h-1.2zM140.5 387.6h1.5v1.5h-1.5zM130.7 405.0h1.5v1.5h-1.5zM120.0 356.0h1.8v1.8h-1.8zM121.5 387.0h1.5v1.5h-1.5zM156.4 382.8h1.2v1.2h-1.2zM149.4 375.4h1.5v1.5h-1.5zM128.8 400.3h1.8v1.8h-1.8zM136.3 383.1h1.8v1.8h-1.8zM138.9 410.7h1.8v1.8h-1.8zM145.9 369.3h1.5v1.5h-1.5zM100.9 391.7h1.2v1.2h-1.2zM134.5 383.0h1.8v1.8h-1.8zM140.8 412.8h1.5v1.5h-1.5zM135.1 379.3h1.8v1.8h-1.8zM144.7 396.4h1.0v1.0h-1.0zM151.1 398.7h1.2v1.2h-1.2zM126.4 381.1h1.0v1.0h-1.0zM131.3 386.4h1.0v1.0h-1.0zM132.0 371.8h1.0v1.0h-1.0zM153.7 384.2h1.8v1.8h-1.8zM120.9 355.3h1.8v1.8h-1.8zM139.0 380.5h1.0v1.0h-1.0zM153.7 413.1h1.0v1.0h-1.0zM126.1 365.7h1.0v1.0h-1.0zM150.4 366.3h1.5v1.5h-1.5z" fill="#4c0e17"/>
<path d="M101.4 365.6h1.2v1.2h-1.2zM118.2 375.8h1.8v1.8h-1.8zM140.3 396.4h1.0v1.0h-1.0zM100.5 394.2h1.2v1.2h-1.2zM143.6 408.5h1.5v1.5h-1.5zM115.6 391.0h1.0v1.0h-1.0zM116.7 379.1h1.0v1.0h-1.0zM140.0 374.9h1.5v1.5h-1.5zM122.1 386.1h1.0v1.0h-1.0zM140.8 385.8h1.0v1.0h-1.0zM143.1 360.3h1.8v1.8h-1.8zM127.9 393.5h1.0v1.0h-1.0zM117.0 405.3h1.8v1.8h-1.8zM127.5 400.6h1.5v1.5h-1.5zM119.7 399.4h1.5v1.5h-1.5zM139.7 377.2h1.0v1.0h-1.0zM138.5 387.7h1.5v1.5h-1.5zM154.1 368.5h1.0v1.0h-1.0zM133.2 378.3h1.0v1.0h-1.0zM137.9 354.7h1.5v1.5h-1.5zM122.4 388.4h1.8v1.8h-1.8zM133.5 373.6h1.0v1.0h-1.0zM152.5 400.7h1.0v1.0h-1.0zM135.9 391.9h1.5v1.5h-1.5zM118.1 410.6h1.2v1.2h-1.2zM134.0 391.5h1.0v1.0h-1.0zM156.0 398.8h1.5v1.5h-1.5zM157.8 395.2h1.0v1.0h-1.0zM130.7 367.6h1.5v1.5h-1.5zM146.0 409.9h1.5v1.5h-1.5zM106.9 406.8h1.5v1.5h-1.5zM142.3 361.7h1.0v1.0h-1.0zM103.6 408.5h1.2v1.2h-1.2zM121.2 410.4h1.0v1.0h-1.0zM152.7 393.8h1.0v1.0h-1.0zM138.9 404.8h1.2v1.2h-1.2zM124.1 355.8h1.2v1.2h-1.2zM104.2 364.1h1.0v1.0h-1.0zM115.3 390.8h1.0v1.0h-1.0zM109.5 364.6h1.2v1.2h-1.2zM158.0 387.1h1.0v1.0h-1.0zM151.3 363.3h1.2v1.2h-1.2zM118.6 368.8h1.8v1.8h-1.8zM130.3 395.2h1.5v1.5h-1.5zM149.8 375.3h1.0v1.0h-1.0zM117.3 369.5h1.0v1.0h-1.0zM134.8 390.6h1.8v1.8h-1.8zM99.8 377.2h1.2v1.2h-1.2zM117.3 381.8h1.8v1.8h-1.8zM153.6 406.3h1.5v1.5h-1.5zM116.2 375.1h1.8v1.8h-1.8zM126.8 394.4h1.0v1.0h-1.0zM132.5 378.2h1.5v1.5h-1.5zM106.3 381.0h1.5v1.5h-1.5zM127.2 378.9h1.8v1.8h-1.8zM104.0 362.5h1.2v1.2h-1.2zM110.6 356.3h1.5v1.5h-1.5zM127.3 366.1h1.5v1.5h-1.5zM122.6 364.4h1.5v1.5h-1.5zM124.1 371.3h1.0v1.0h-1.0zM143.9 407.5h1.0v1.0h-1.0zM121.1 361.4h1.0v1.0h-1.0zM130.3 376.6h1.2v1.2h-1.2zM137.6 400.1h1.5v1.5h-1.5zM98.7 392.9h1.2v1.2h-1.2zM149.9 377.9h1.2v1.2h-1.2zM134.3 366.0h1.2v1.2h-1.2zM157.0 378.5h1.2v1.2h-1.2zM146.0 406.9h1.2v1.2h-1.2zM143.4 413.1h1.0v1.0h-1.0zM142.7 373.1h1.8v1.8h-1.8zM124.3 396.3h1.5v1.5h-1.5zM132.3 396.0h1.5v1.5h-1.5zM146.2 357.8h1.5v1.5h-1.5zM144.6 398.4h1.0v1.0h-1.0zM113.8 401.1h1.5v1.5h-1.5zM142.2 368.9h1.0v1.0h-1.0zM156.0 387.1h1.2v1.2h-1.2zM98.4 354.1h1.5v1.5h-1.5zM136.9 362.9h1.8v1.8h-1.8zM118.8 398.0h1.2v1.2h-1.2z" fill="#721522"/>
<path d="M108.8 401.0h1.5v1.5h-1.5zM150.3 367.0h1.2v1.2h-1.2zM129.7 396.0h1.8v1.8h-1.8zM145.4 362.4h1.8v1.8h-1.8zM118.5 357.4h1.0v1.0h-1.0zM143.2 376.4h1.8v1.8h-1.8zM136.4 394.8h1.5v1.5h-1.5zM131.9 411.9h1.5v1.5h-1.5zM142.7 378.9h1.0v1.0h-1.0zM102.1 374.5h1.5v1.5h-1.5zM134.7 396.5h1.8v1.8h-1.8zM140.8 391.0h1.2v1.2h-1.2zM130.5 402.8h1.0v1.0h-1.0zM155.7 402.1h1.0v1.0h-1.0zM125.3 397.8h1.5v1.5h-1.5zM116.9 365.9h1.0v1.0h-1.0zM115.8 386.7h1.2v1.2h-1.2zM128.6 384.0h1.5v1.5h-1.5zM124.4 354.6h1.8v1.8h-1.8zM152.1 384.0h1.0v1.0h-1.0zM133.3 395.4h1.0v1.0h-1.0zM100.9 400.3h1.0v1.0h-1.0zM118.4 403.2h1.2v1.2h-1.2zM136.0 390.2h1.0v1.0h-1.0zM150.2 390.7h1.8v1.8h-1.8zM131.2 411.4h1.0v1.0h-1.0zM146.1 397.0h1.0v1.0h-1.0zM155.3 383.0h1.8v1.8h-1.8zM130.9 368.2h1.5v1.5h-1.5zM98.5 392.3h1.8v1.8h-1.8zM157.2 377.5h1.5v1.5h-1.5zM113.8 356.0h1.0v1.0h-1.0zM126.9 378.6h1.0v1.0h-1.0zM120.7 412.5h1.0v1.0h-1.0zM112.6 358.5h1.0v1.0h-1.0zM134.3 357.9h1.8v1.8h-1.8zM126.1 378.4h1.5v1.5h-1.5zM138.3 365.8h1.5v1.5h-1.5zM136.0 354.8h1.2v1.2h-1.2zM150.0 383.9h1.8v1.8h-1.8zM156.9 368.8h1.2v1.2h-1.2zM99.5 395.8h1.5v1.5h-1.5zM128.6 409.1h1.0v1.0h-1.0zM135.6 379.5h1.0v1.0h-1.0zM150.3 377.8h1.0v1.0h-1.0zM128.7 388.5h1.8v1.8h-1.8zM134.4 362.7h1.0v1.0h-1.0zM138.6 394.5h1.2v1.2h-1.2zM141.2 363.3h1.0v1.0h-1.0zM145.9 403.2h1.5v1.5h-1.5zM140.4 403.7h1.0v1.0h-1.0zM149.4 363.3h1.2v1.2h-1.2zM107.5 392.6h1.0v1.0h-1.0zM131.0 399.9h1.8v1.8h-1.8zM142.4 380.4h1.5v1.5h-1.5zM154.9 380.8h1.8v1.8h-1.8zM127.2 367.1h1.5v1.5h-1.5zM125.4 407.9h1.0v1.0h-1.0zM122.5 378.1h1.5v1.5h-1.5zM100.7 363.8h1.0v1.0h-1.0zM143.7 376.9h1.8v1.8h-1.8zM127.0 384.7h1.5v1.5h-1.5zM135.0 361.9h1.5v1.5h-1.5zM122.7 373.8h1.0v1.0h-1.0zM146.7 402.4h1.0v1.0h-1.0zM132.7 375.9h1.2v1.2h-1.2zM109.4 371.7h1.0v1.0h-1.0zM113.6 372.9h1.5v1.5h-1.5zM144.0 399.0h1.2v1.2h-1.2zM126.0 359.6h1.8v1.8h-1.8zM151.6 361.5h1.8v1.8h-1.8zM130.4 385.9h1.2v1.2h-1.2zM123.5 386.9h1.0v1.0h-1.0zM150.8 397.5h1.0v1.0h-1.0zM146.4 373.1h1.2v1.2h-1.2zM157.7 384.5h1.0v1.0h-1.0zM151.2 360.8h1.8v1.8h-1.8zM128.1 366.8h1.0v1.0h-1.0zM151.1 412.8h1.8v1.8h-1.8zM115.7 383.4h1.0v1.0h-1.0zM103.6 407.2h1.0v1.0h-1.0zM139.6 370.7h1.2v1.2h-1.2zM143.6 371.7h1.5v1.5h-1.5zM144.7 377.8h1.2v1.2h-1.2zM104.1 386.8h1.0v1.0h-1.0zM117.0 366.0h1.2v1.2h-1.2zM121.5 407.5h1.8v1.8h-1.8zM97.6 384.4h1.2v1.2h-1.2zM152.0 400.1h1.0v1.0h-1.0zM130.7 387.8h1.0v1.0h-1.0zM157.3 412.8h1.8v1.8h-1.8zM136.4 404.0h1.0v1.0h-1.0zM144.5 372.1h1.8v1.8h-1.8zM153.6 363.1h1.2v1.2h-1.2zM98.9 375.4h1.8v1.8h-1.8zM152.4 390.8h1.2v1.2h-1.2zM154.4 366.8h1.0v1.0h-1.0z" fill="#a01c2c"/>
<path d="M155.6 368.6h1.0v1.0h-1.0zM130.8 386.0h1.2v1.2h-1.2zM115.2 356.4h1.8v1.8h-1.8zM141.8 392.9h1.8v1.8h-1.8zM142.2 365.5h1.5v1.5h-1.5zM144.2 388.7h1.8v1.8h-1.8zM120.6 367.5h1.5v1.5h-1.5zM154.3 412.3h1.8v1.8h-1.8zM123.6 357.7h1.0v1.0h-1.0zM111.4 373.8h1.2v1.2h-1.2zM148.7 361.2h1.8v1.8h-1.8zM110.4 385.1h1.0v1.0h-1.0zM132.1 412.5h1.0v1.0h-1.0zM134.3 377.2h1.0v1.0h-1.0zM125.9 409.7h1.5v1.5h-1.5zM131.2 371.8h1.0v1.0h-1.0zM138.3 377.4h1.0v1.0h-1.0zM139.1 369.3h1.0v1.0h-1.0zM147.0 374.2h1.2v1.2h-1.2zM139.3 378.0h1.0v1.0h-1.0zM116.9 379.8h1.0v1.0h-1.0zM113.6 386.8h1.2v1.2h-1.2zM123.4 385.1h1.0v1.0h-1.0zM150.1 355.3h1.2v1.2h-1.2zM141.8 378.0h1.5v1.5h-1.5zM108.1 404.9h1.2v1.2h-1.2zM110.4 362.4h1.0v1.0h-1.0zM124.9 409.4h1.0v1.0h-1.0zM113.7 398.2h1.0v1.0h-1.0zM154.0 374.8h1.8v1.8h-1.8zM154.2 397.2h1.5v1.5h-1.5zM117.3 408.4h1.0v1.0h-1.0zM124.3 359.3h1.2v1.2h-1.2zM150.5 376.8h1.0v1.0h-1.0zM131.7 409.6h1.5v1.5h-1.5zM145.2 387.4h1.5v1.5h-1.5zM154.4 367.2h1.2v1.2h-1.2zM152.2 369.9h1.8v1.8h-1.8zM104.4 378.2h1.0v1.0h-1.0zM141.0 389.4h1.8v1.8h-1.8zM146.8 357.2h1.5v1.5h-1.5zM137.3 367.2h1.2v1.2h-1.2zM121.0 388.1h1.2v1.2h-1.2zM119.2 390.4h1.2v1.2h-1.2zM123.6 382.4h1.5v1.5h-1.5zM137.9 381.1h1.5v1.5h-1.5zM136.1 403.3h1.0v1.0h-1.0zM98.5 373.1h1.2v1.2h-1.2zM144.2 388.6h1.0v1.0h-1.0zM124.2 383.8h1.2v1.2h-1.2zM121.1 397.5h1.0v1.0h-1.0zM104.6 399.7h1.2v1.2h-1.2zM140.3 398.7h1.2v1.2h-1.2zM150.7 360.2h1.5v1.5h-1.5zM151.8 366.2h1.0v1.0h-1.0zM109.0 377.0h1.2v1.2h-1.2zM126.5 402.9h1.5v1.5h-1.5zM125.2 369.6h1.5v1.5h-1.5zM155.6 401.4h1.0v1.0h-1.0zM151.0 387.7h1.5v1.5h-1.5zM123.6 398.4h1.0v1.0h-1.0zM116.1 400.1h1.5v1.5h-1.5zM134.3 398.5h1.5v1.5h-1.5zM142.5 373.7h1.2v1.2h-1.2zM147.0 383.1h1.2v1.2h-1.2zM157.2 388.5h1.5v1.5h-1.5zM158.0 412.2h1.5v1.5h-1.5zM127.6 386.5h1.2v1.2h-1.2zM134.4 359.2h1.8v1.8h-1.8zM151.9 367.1h1.2v1.2h-1.2zM102.7 355.5h1.5v1.5h-1.5zM122.1 396.8h1.8v1.8h-1.8zM140.3 397.1h1.2v1.2h-1.2zM128.6 386.7h1.0v1.0h-1.0zM129.3 387.5h1.8v1.8h-1.8zM140.6 407.4h1.5v1.5h-1.5zM140.0 407.3h1.0v1.0h-1.0zM137.7 403.9h1.5v1.5h-1.5zM135.3 360.4h1.0v1.0h-1.0zM131.7 402.0h1.0v1.0h-1.0z" fill="#d42a36"/>
<rect x="97.10" y="417.20" width="62.20" height="61.80" fill="#0c0c0c" />
<circle cx="107.7" cy="459.6" r="0.59" fill="#8a9a8a" fill-opacity="0.74"/><circle cx="158.2" cy="446.6" r="0.69" fill="#6a8a6a" fill-opacity="0.60"/><circle cx="112.0" cy="417.9" r="0.51" fill="#8a9a8a" fill-opacity="0.43"/><circle cx="146.2" cy="431.8" r="0.47" fill="#6a8a6a" fill-opacity="0.57"/><circle cx="158.5" cy="464.6" r="0.52" fill="#8a9a8a" fill-opacity="0.41"/><circle cx="117.7" cy="448.0" r="0.43" fill="#8a9a8a" fill-opacity="0.41"/><circle cx="143.0" cy="423.1" r="0.64" fill="#6a8a6a" fill-opacity="0.58"/><circle cx="131.4" cy="438.5" r="0.55" fill="#6a8a6a" fill-opacity="0.67"/><circle cx="126.4" cy="467.6" r="0.42" fill="#6a8a6a" fill-opacity="0.48"/><circle cx="156.9" cy="472.1" r="0.63" fill="#6a8a6a" fill-opacity="0.45"/><circle cx="126.8" cy="468.0" r="0.46" fill="#6a8a6a" fill-opacity="0.76"/><circle cx="122.7" cy="439.9" r="0.54" fill="#8a9a8a" fill-opacity="0.53"/><circle cx="127.2" cy="433.9" r="0.65" fill="#6a8a6a" fill-opacity="0.69"/><circle cx="158.4" cy="447.9" r="0.55" fill="#6a8a6a" fill-opacity="0.63"/>
<rect x="161.50" y="354.00" width="62.70" height="61.00" fill="#130509" />
<path d="M206.7 376.6h1.0v1.0h-1.0zM220.8 399.9h1.8v1.8h-1.8zM206.2 378.8h1.2v1.2h-1.2zM198.4 385.8h1.2v1.2h-1.2zM170.7 361.1h1.2v1.2h-1.2zM190.4 354.5h1.8v1.8h-1.8zM187.8 410.4h1.0v1.0h-1.0zM217.7 381.1h1.0v1.0h-1.0zM174.2 363.1h1.5v1.5h-1.5zM175.5 406.9h1.5v1.5h-1.5zM178.4 369.6h1.8v1.8h-1.8zM179.3 384.7h1.8v1.8h-1.8zM187.6 398.3h1.0v1.0h-1.0zM216.4 398.1h1.5v1.5h-1.5zM181.9 404.7h1.5v1.5h-1.5zM216.6 368.5h1.2v1.2h-1.2zM189.9 404.6h1.5v1.5h-1.5zM204.3 364.9h1.5v1.5h-1.5zM221.2 377.3h1.5v1.5h-1.5zM204.8 384.1h1.0v1.0h-1.0zM166.4 393.4h1.8v1.8h-1.8zM193.3 406.0h1.5v1.5h-1.5zM201.9 364.3h1.5v1.5h-1.5zM183.9 400.3h1.5v1.5h-1.5zM213.8 366.0h1.0v1.0h-1.0zM202.9 355.0h1.5v1.5h-1.5zM222.4 356.3h1.8v1.8h-1.8zM185.0 397.9h1.5v1.5h-1.5zM215.2 365.5h1.0v1.0h-1.0zM199.4 402.0h1.5v1.5h-1.5zM167.1 377.2h1.0v1.0h-1.0zM206.9 404.9h1.0v1.0h-1.0zM182.7 356.8h1.8v1.8h-1.8zM161.8 399.6h1.5v1.5h-1.5zM201.9 385.7h1.5v1.5h-1.5zM195.6 383.6h1.5v1.5h-1.5zM165.2 364.4h1.2v1.2h-1.2zM200.5 388.9h1.8v1.8h-1.8zM203.0 372.7h1.5v1.5h-1.5zM188.5 376.6h1.5v1.5h-1.5zM203.1 355.2h1.8v1.8h-1.8zM199.3 358.5h1.0v1.0h-1.0zM209.4 395.9h1.5v1.5h-1.5zM209.6 380.6h1.5v1.5h-1.5zM163.3 375.8h1.0v1.0h-1.0zM171.7 400.2h1.0v1.0h-1.0zM209.7 409.9h1.0v1.0h-1.0zM178.9 380.1h1.2v1.2h-1.2zM201.0 385.0h1.8v1.8h-1.8zM190.2 400.9h1.0v1.0h-1.0zM220.0 378.0h1.0v1.0h-1.0zM199.0 358.1h1.5v1.5h-1.5zM208.0 407.1h1.8v1.8h-1.8zM217.5 404.0h1.8v1.8h-1.8zM181.9 389.8h1.0v1.0h-1.0zM219.8 362.9h1.8v1.8h-1.8zM179.3 398.2h1.8v1.8h-1.8zM186.9 360.3h1.5v1.5h-1.5zM190.0 401.6h1.5v1.5h-1.5zM218.9 408.7h1.0v1.0h-1.0zM187.8 390.1h1.2v1.2h-1.2zM193.1 387.4h1.0v1.0h-1.0zM179.1 358.1h1.2v1.2h-1.2zM219.7 383.5h1.8v1.8h-1.8zM209.9 361.6h1.2v1.2h-1.2zM218.4 404.9h1.0v1.0h-1.0zM215.5 408.1h1.8v1.8h-1.8zM202.6 394.1h1.0v1.0h-1.0zM208.7 356.7h1.5v1.5h-1.5zM211.1 375.0h1.0v1.0h-1.0zM208.3 402.4h1.5v1.5h-1.5zM174.7 356.4h1.0v1.0h-1.0zM184.0 381.9h1.5v1.5h-1.5zM208.9 388.2h1.5v1.5h-1.5zM183.8 366.7h1.0v1.0h-1.0zM203.8 360.9h1.2v1.2h-1.2zM218.4 398.7h1.5v1.5h-1.5zM175.8 386.3h1.5v1.5h-1.5zM216.0 390.4h1.5v1.5h-1.5zM193.1 363.1h1.5v1.5h-1.5zM190.6 373.1h1.0v1.0h-1.0zM206.2 410.3h1.0v1.0h-1.0zM189.7 397.9h1.0v1.0h-1.0zM197.1 402.6h1.2v1.2h-1.2zM179.4 375.0h1.0v1.0h-1.0zM161.5 403.8h1.0v1.0h-1.0zM200.8 358.7h1.8v1.8h-1.8zM162.8 371.8h1.0v1.0h-1.0zM220.4 412.7h1.5v1.5h-1.5zM195.0 368.2h1.5v1.5h-1.5zM210.9 392.0h1.0v1.0h-1.0zM188.7 365.9h1.0v1.0h-1.0zM187.2 373.7h1.2v1.2h-1.2zM215.7 400.8h1.8v1.8h-1.8zM216.8 398.9h1.2v1.2h-1.2zM202.4 391.5h1.8v1.8h-1.8zM166.4 355.9h1.5v1.5h-1.5zM204.1 371.4h1.0v1.0h-1.0zM201.8 373.6h1.2v1.2h-1.2zM180.8 393.4h1.2v1.2h-1.2zM217.3 402.4h1.2v1.2h-1.2zM188.5 401.4h1.8v1.8h-1.8zM174.5 390.3h1.5v1.5h-1.5zM220.6 364.2h1.5v1.5h-1.5zM193.0 367.2h1.8v1.8h-1.8zM216.6 394.7h1.0v1.0h-1.0zM212.4 355.6h1.8v1.8h-1.8zM186.5 387.8h1.8v1.8h-1.8zM214.6 407.5h1.0v1.0h-1.0zM196.7 393.5h1.2v1.2h-1.2zM217.9 388.3h1.2v1.2h-1.2zM206.4 379.2h1.0v1.0h-1.0zM172.6 378.3h1.5v1.5h-1.5zM190.6 396.1h1.5v1.5h-1.5zM190.4 405.5h1.8v1.8h-1.8zM214.3 369.3h1.5v1.5h-1.5zM191.5 381.5h1.2v1.2h-1.2zM163.3 369.5h1.5v1.5h-1.5zM222.5 394.3h1.2v1.2h-1.2zM203.5 366.5h1.8v1.8h-1.8zM185.2 406.2h1.5v1.5h-1.5zM183.5 402.1h1.2v1.2h-1.2zM207.0 366.9h1.0v1.0h-1.0zM209.6 375.6h1.5v1.5h-1.5zM209.4 407.5h1.5v1.5h-1.5zM210.9 409.2h1.0v1.0h-1.0zM190.7 385.3h1.8v1.8h-1.8zM161.5 384.0h1.0v1.0h-1.0zM195.2 368.4h1.0v1.0h-1.0zM186.5 387.0h1.5v1.5h-1.5zM186.8 391.9h1.5v1.5h-1.5zM189.1 373.8h1.5v1.5h-1.5zM163.1 394.5h1.2v1.2h-1.2zM213.2 396.0h1.8v1.8h-1.8zM203.9 356.0h1.2v1.2h-1.2zM183.2 370.8h1.5v1.5h-1.5zM205.9 385.2h1.8v1.8h-1.8zM214.9 389.2h1.8v1.8h-1.8zM210.6 370.7h1.2v1.2h-1.2zM202.5 374.2h1.5v1.5h-1.5zM206.3 392.5h1.5v1.5h-1.5zM164.6 387.1h1.0v1.0h-1.0zM184.3 364.0h1.5v1.5h-1.5zM214.6 382.5h1.0v1.0h-1.0zM214.7 366.2h1.5v1.5h-1.5zM204.4 388.4h1.2v1.2h-1.2zM190.0 405.0h1.0v1.0h-1.0zM183.8 368.9h1.2v1.2h-1.2zM199.2 392.3h1.0v1.0h-1.0zM212.2 401.4h1.0v1.0h-1.0zM190.9 357.0h1.5v1.5h-1.5zM208.6 386.5h1.8v1.8h-1.8zM197.9 360.5h1.8v1.8h-1.8zM190.9 371.0h1.8v1.8h-1.8zM169.1 389.3h1.2v1.2h-1.2zM182.6 382.0h1.0v1.0h-1.0zM177.5 380.0h1.5v1.5h-1.5zM204.6 412.1h1.2v1.2h-1.2zM181.4 375.0h1.2v1.2h-1.2zM186.5 374.4h1.2v1.2h-1.2zM204.0 399.1h1.2v1.2h-1.2zM182.4 357.5h1.0v1.0h-1.0zM198.6 406.0h1.0v1.0h-1.0zM213.2 381.9h1.8v1.8h-1.8zM178.1 377.1h1.8v1.8h-1.8zM209.6 391.5h1.8v1.8h-1.8zM172.8 387.2h1.8v1.8h-1.8zM165.8 381.9h1.0v1.0h-1.0zM214.0 392.3h1.2v1.2h-1.2zM207.5 409.5h1.0v1.0h-1.0zM170.4 375.8h1.0v1.0h-1.0zM215.8 393.6h1.2v1.2h-1.2zM215.0 373.3h1.0v1.0h-1.0zM206.9 366.0h1.2v1.2h-1.2zM181.3 359.7h1.5v1.5h-1.5zM161.9 368.3h1.0v1.0h-1.0zM221.0 395.9h1.2v1.2h-1.2zM219.2 373.9h1.2v1.2h-1.2zM212.7 412.9h1.5v1.5h-1.5zM173.7 402.0h1.0v1.0h-1.0zM171.2 382.8h1.8v1.8h-1.8zM166.0 410.1h1.2v1.2h-1.2zM192.4 360.1h1.5v1.5h-1.5zM189.3 397.9h1.2v1.2h-1.2zM199.8 386.8h1.0v1.0h-1.0zM198.2 392.5h1.0v1.0h-1.0zM218.4 378.3h1.8v1.8h-1.8zM198.5 368.0h1.5v1.5h-1.5zM199.1 387.1h1.2v1.2h-1.2zM201.5 358.1h1.8v1.8h-1.8zM191.4 405.7h1.0v1.0h-1.0zM184.5 368.6h1.5v1.5h-1.5zM222.0 357.4h1.8v1.8h-1.8zM176.2 404.0h1.5v1.5h-1.5zM201.7 396.3h1.5v1.5h-1.5zM183.0 384.8h1.5v1.5h-1.5zM191.7 400.1h1.5v1.5h-1.5zM178.5 377.4h1.0v1.0h-1.0zM199.8 397.4h1.8v1.8h-1.8zM199.3 358.0h1.0v1.0h-1.0zM219.1 413.7h1.0v1.0h-1.0zM164.0 409.0h1.0v1.0h-1.0zM214.1 365.4h1.2v1.2h-1.2zM197.9 409.2h1.5v1.5h-1.5zM195.1 388.3h1.0v1.0h-1.0zM190.3 374.6h1.2v1.2h-1.2zM214.7 359.2h1.0v1.0h-1.0zM219.7 413.8h1.5v1.5h-1.5zM174.9 400.3h1.2v1.2h-1.2zM208.0 371.8h1.5v1.5h-1.5zM220.9 389.0h1.0v1.0h-1.0zM189.8 368.5h1.5v1.5h-1.5zM175.8 357.3h1.0v1.0h-1.0zM208.1 388.3h1.5v1.5h-1.5zM178.5 373.7h1.5v1.5h-1.5zM199.0 412.7h1.0v1.0h-1.0zM178.6 395.7h1.0v1.0h-1.0zM185.9 398.3h1.2v1.2h-1.2zM162.7 377.4h1.5v1.5h-1.5zM216.5 361.2h1.0v1.0h-1.0zM201.9 411.1h1.2v1.2h-1.2zM186.8 413.4h1.0v1.0h-1.0zM209.8 391.8h1.0v1.0h-1.0zM177.0 389.4h1.8v1.8h-1.8zM200.5 376.3h1.2v1.2h-1.2zM204.1 398.9h1.0v1.0h-1.0zM209.1 382.4h1.2v1.2h-1.2zM171.8 412.6h1.5v1.5h-1.5zM175.0 407.1h1.5v1.5h-1.5zM209.5 401.2h1.0v1.0h-1.0zM184.2 389.4h1.5v1.5h-1.5zM209.1 406.1h1.2v1.2h-1.2zM209.5 363.2h1.5v1.5h-1.5z" fill="#2c080d"/>
<path d="M203.9 390.4h1.0v1.0h-1.0zM205.4 385.4h1.5v1.5h-1.5zM202.7 368.7h1.8v1.8h-1.8zM213.2 362.0h1.0v1.0h-1.0zM197.7 391.8h1.5v1.5h-1.5zM189.0 393.6h1.0v1.0h-1.0zM174.0 380.6h1.5v1.5h-1.5zM194.0 412.1h1.8v1.8h-1.8zM185.5 380.4h1.8v1.8h-1.8zM218.5 409.7h1.0v1.0h-1.0zM213.4 406.9h1.5v1.5h-1.5zM219.2 408.1h1.0v1.0h-1.0zM189.2 377.0h1.0v1.0h-1.0zM199.6 401.0h1.0v1.0h-1.0zM186.0 394.2h1.0v1.0h-1.0zM206.7 378.0h1.8v1.8h-1.8zM211.5 365.7h1.2v1.2h-1.2zM190.6 366.8h1.0v1.0h-1.0zM184.8 405.8h1.5v1.5h-1.5zM203.6 396.4h1.2v1.2h-1.2zM202.7 406.2h1.0v1.0h-1.0zM216.2 357.8h1.5v1.5h-1.5zM188.3 355.4h1.5v1.5h-1.5zM203.8 403.6h1.0v1.0h-1.0zM208.7 356.7h1.0v1.0h-1.0zM197.5 364.2h1.2v1.2h-1.2zM214.0 412.2h1.8v1.8h-1.8zM205.9 406.9h1.5v1.5h-1.5zM202.9 359.7h1.0v1.0h-1.0zM214.9 379.4h1.2v1.2h-1.2zM202.8 381.0h1.8v1.8h-1.8zM219.5 357.2h1.5v1.5h-1.5zM196.6 400.3h1.2v1.2h-1.2zM190.0 369.2h1.2v1.2h-1.2zM221.0 389.8h1.8v1.8h-1.8zM195.7 406.4h1.0v1.0h-1.0zM172.6 364.5h1.2v1.2h-1.2zM204.9 388.0h1.5v1.5h-1.5zM186.1 364.2h1.8v1.8h-1.8zM198.4 399.7h1.5v1.5h-1.5zM199.9 367.5h1.0v1.0h-1.0zM221.8 375.2h1.2v1.2h-1.2zM213.9 395.8h1.0v1.0h-1.0zM220.1 411.9h1.2v1.2h-1.2zM170.3 382.0h1.0v1.0h-1.0zM171.6 384.0h1.5v1.5h-1.5zM214.6 393.3h1.2v1.2h-1.2zM186.0 392.7h1.0v1.0h-1.0zM213.9 402.3h1.0v1.0h-1.0zM188.3 390.0h1.0v1.0h-1.0zM204.3 377.0h1.8v1.8h-1.8zM203.8 398.1h1.5v1.5h-1.5zM202.1 408.8h1.2v1.2h-1.2zM191.4 403.1h1.0v1.0h-1.0zM205.4 382.0h1.2v1.2h-1.2zM203.5 370.2h1.5v1.5h-1.5zM203.8 412.2h1.2v1.2h-1.2zM209.8 355.6h1.8v1.8h-1.8zM185.1 406.7h1.2v1.2h-1.2zM222.3 369.7h1.2v1.2h-1.2zM191.9 374.7h1.8v1.8h-1.8zM184.1 370.2h1.0v1.0h-1.0zM222.7 359.7h1.8v1.8h-1.8zM203.5 405.5h1.5v1.5h-1.5zM222.4 373.7h1.5v1.5h-1.5zM177.3 387.3h1.5v1.5h-1.5zM220.6 383.7h1.5v1.5h-1.5zM169.1 375.2h1.2v1.2h-1.2zM219.6 364.3h1.2v1.2h-1.2zM213.5 405.2h1.0v1.0h-1.0zM222.9 387.4h1.5v1.5h-1.5zM217.4 363.3h1.8v1.8h-1.8zM206.8 395.3h1.2v1.2h-1.2zM205.4 399.5h1.5v1.5h-1.5zM198.9 357.0h1.5v1.5h-1.5zM185.4 365.6h1.0v1.0h-1.0zM180.0 403.4h1.5v1.5h-1.5zM179.7 386.4h1.5v1.5h-1.5zM200.0 381.2h1.8v1.8h-1.8zM201.3 355.5h1.0v1.0h-1.0zM204.5 406.4h1.2v1.2h-1.2zM202.7 366.1h1.2v1.2h-1.2zM197.2 363.9h1.5v1.5h-1.5zM198.2 364.6h1.5v1.5h-1.5zM180.5 368.0h1.5v1.5h-1.5zM193.5 382.7h1.0v1.0h-1.0zM213.0 355.2h1.0v1.0h-1.0zM197.2 404.1h1.0v1.0h-1.0zM185.0 389.8h1.0v1.0h-1.0zM188.0 400.4h1.0v1.0h-1.0zM189.8 371.4h1.5v1.5h-1.5zM219.3 406.6h1.0v1.0h-1.0zM208.3 364.4h1.0v1.0h-1.0zM161.8 388.9h1.5v1.5h-1.5zM184.3 371.5h1.5v1.5h-1.5zM222.6 363.8h1.0v1.0h-1.0zM190.1 397.0h1.0v1.0h-1.0zM182.2 368.6h1.5v1.5h-1.5zM203.9 359.0h1.0v1.0h-1.0zM208.6 400.8h1.5v1.5h-1.5zM162.6 388.3h1.2v1.2h-1.2zM187.6 362.9h1.8v1.8h-1.8zM190.9 390.9h1.8v1.8h-1.8zM199.7 380.9h1.2v1.2h-1.2zM199.2 374.4h1.8v1.8h-1.8zM221.1 365.8h1.5v1.5h-1.5zM196.5 384.8h1.5v1.5h-1.5zM186.4 396.9h1.2v1.2h-1.2zM214.8 395.6h1.5v1.5h-1.5zM182.2 393.1h1.8v1.8h-1.8zM212.2 401.5h1.0v1.0h-1.0zM217.6 408.9h1.0v1.0h-1.0zM197.8 403.2h1.0v1.0h-1.0zM187.4 404.9h1.0v1.0h-1.0zM200.5 393.4h1.8v1.8h-1.8zM182.3 378.7h1.5v1.5h-1.5zM183.4 376.1h1.0v1.0h-1.0zM202.5 380.7h1.8v1.8h-1.8zM195.9 369.0h1.5v1.5h-1.5zM203.9 413.1h1.0v1.0h-1.0zM192.2 396.0h1.0v1.0h-1.0zM222.6 407.0h1.5v1.5h-1.5zM167.6 399.6h1.5v1.5h-1.5zM192.1 395.0h1.0v1.0h-1.0zM199.0 396.7h1.5v1.5h-1.5zM217.4 398.5h1.5v1.5h-1.5zM198.3 369.4h1.5v1.5h-1.5zM218.4 404.4h1.0v1.0h-1.0zM215.2 379.4h1.8v1.8h-1.8zM179.8 384.1h1.8v1.8h-1.8zM204.9 385.2h1.8v1.8h-1.8zM202.7 384.8h1.5v1.5h-1.5zM198.1 377.7h1.8v1.8h-1.8zM180.3 411.0h1.8v1.8h-1.8zM193.0 382.9h1.5v1.5h-1.5zM180.9 413.1h1.5v1.5h-1.5z" fill="#4c0e17"/>
<path d="M170.6 390.8h1.5v1.5h-1.5zM190.4 410.7h1.5v1.5h-1.5zM203.5 377.4h1.5v1.5h-1.5zM207.1 358.5h1.5v1.5h-1.5zM198.2 378.0h1.8v1.8h-1.8zM182.0 359.8h1.0v1.0h-1.0zM222.1 409.4h1.0v1.0h-1.0zM212.8 385.2h1.5v1.5h-1.5zM199.2 368.5h1.2v1.2h-1.2zM185.7 374.8h1.5v1.5h-1.5zM163.5 399.9h1.2v1.2h-1.2zM207.4 402.3h1.8v1.8h-1.8zM216.9 397.6h1.0v1.0h-1.0zM204.6 372.6h1.0v1.0h-1.0zM221.5 371.2h1.2v1.2h-1.2zM188.2 392.0h1.5v1.5h-1.5zM182.1 388.2h1.2v1.2h-1.2zM190.0 397.0h1.5v1.5h-1.5zM212.3 411.0h1.5v1.5h-1.5zM196.3 377.5h1.2v1.2h-1.2zM209.6 360.2h1.5v1.5h-1.5zM202.8 406.1h1.5v1.5h-1.5zM190.3 365.2h1.2v1.2h-1.2zM210.8 403.4h1.5v1.5h-1.5zM177.8 407.7h1.5v1.5h-1.5zM210.3 403.1h1.5v1.5h-1.5zM216.2 354.7h1.5v1.5h-1.5zM192.2 405.1h1.0v1.0h-1.0zM221.1 363.5h1.0v1.0h-1.0zM181.8 382.1h1.5v1.5h-1.5zM186.4 378.0h1.0v1.0h-1.0zM207.1 372.1h1.8v1.8h-1.8zM213.0 375.7h1.8v1.8h-1.8zM188.4 373.6h1.2v1.2h-1.2zM186.3 409.7h1.5v1.5h-1.5zM207.4 396.6h1.8v1.8h-1.8zM205.3 358.3h1.2v1.2h-1.2zM191.9 402.4h1.8v1.8h-1.8zM203.4 362.3h1.2v1.2h-1.2zM172.7 364.5h1.8v1.8h-1.8zM176.8 409.7h1.5v1.5h-1.5zM214.7 362.8h1.0v1.0h-1.0zM221.5 365.0h1.0v1.0h-1.0zM190.9 412.8h1.0v1.0h-1.0zM190.9 357.0h1.0v1.0h-1.0zM216.6 369.6h1.2v1.2h-1.2zM201.8 368.8h1.5v1.5h-1.5zM207.4 361.4h1.8v1.8h-1.8zM197.9 389.2h1.5v1.5h-1.5zM211.0 391.9h1.5v1.5h-1.5zM214.0 409.3h1.5v1.5h-1.5zM207.5 371.3h1.0v1.0h-1.0zM206.9 371.0h1.5v1.5h-1.5zM201.6 365.0h1.2v1.2h-1.2zM161.9 372.8h1.2v1.2h-1.2zM201.9 360.3h1.5v1.5h-1.5zM197.7 387.6h1.5v1.5h-1.5zM191.3 370.4h1.5v1.5h-1.5zM220.6 391.1h1.2v1.2h-1.2zM221.9 369.5h1.0v1.0h-1.0zM211.2 363.8h1.0v1.0h-1.0zM214.5 380.3h1.2v1.2h-1.2zM187.1 371.4h1.0v1.0h-1.0zM207.4 377.1h1.8v1.8h-1.8zM209.6 403.2h1.0v1.0h-1.0zM207.3 362.5h1.0v1.0h-1.0zM185.6 379.7h1.8v1.8h-1.8zM214.5 368.1h1.5v1.5h-1.5zM205.1 381.4h1.8v1.8h-1.8zM192.8 364.8h1.8v1.8h-1.8zM191.3 409.1h1.2v1.2h-1.2zM212.0 381.4h1.0v1.0h-1.0zM218.8 355.5h1.2v1.2h-1.2zM220.6 399.9h1.0v1.0h-1.0zM210.6 375.1h1.8v1.8h-1.8zM217.3 395.0h1.2v1.2h-1.2zM207.2 390.3h1.2v1.2h-1.2zM197.9 378.6h1.0v1.0h-1.0zM210.0 395.9h1.5v1.5h-1.5zM173.0 364.8h1.0v1.0h-1.0zM176.6 354.9h1.5v1.5h-1.5zM209.6 373.0h1.8v1.8h-1.8zM221.5 356.4h1.0v1.0h-1.0zM212.3 362.6h1.5v1.5h-1.5zM178.4 390.1h1.5v1.5h-1.5zM205.5 393.6h1.0v1.0h-1.0zM205.7 379.7h1.2v1.2h-1.2zM187.8 386.1h1.0v1.0h-1.0zM207.8 354.1h1.2v1.2h-1.2zM203.8 406.8h1.0v1.0h-1.0zM199.0 381.5h1.0v1.0h-1.0zM215.0 367.3h1.0v1.0h-1.0zM166.3 382.9h1.5v1.5h-1.5zM197.3 404.6h1.5v1.5h-1.5zM219.1 395.9h1.2v1.2h-1.2zM213.2 398.1h1.5v1.5h-1.5zM184.7 399.5h1.2v1.2h-1.2zM220.7 413.0h1.0v1.0h-1.0zM221.5 357.3h1.0v1.0h-1.0zM201.3 370.7h1.0v1.0h-1.0zM206.5 412.2h1.5v1.5h-1.5zM177.8 403.5h1.5v1.5h-1.5zM190.0 392.6h1.5v1.5h-1.5zM187.1 382.3h1.0v1.0h-1.0zM164.4 376.6h1.0v1.0h-1.0zM202.5 382.0h1.8v1.8h-1.8zM204.8 392.2h1.0v1.0h-1.0zM171.0 373.0h1.2v1.2h-1.2zM218.3 411.4h1.5v1.5h-1.5zM199.1 379.0h1.5v1.5h-1.5zM221.8 400.1h1.8v1.8h-1.8zM197.0 381.1h1.5v1.5h-1.5zM202.3 392.4h1.2v1.2h-1.2zM190.0 407.8h1.2v1.2h-1.2zM214.1 398.2h1.8v1.8h-1.8zM207.8 412.8h1.5v1.5h-1.5zM191.6 389.2h1.0v1.0h-1.0zM203.6 405.8h1.0v1.0h-1.0zM203.8 361.7h1.8v1.8h-1.8zM189.8 361.7h1.0v1.0h-1.0zM222.5 374.2h1.5v1.5h-1.5zM182.5 381.4h1.0v1.0h-1.0zM196.6 368.1h1.0v1.0h-1.0zM191.3 368.5h1.2v1.2h-1.2zM191.4 376.5h1.5v1.5h-1.5zM220.1 398.8h1.0v1.0h-1.0zM209.7 365.7h1.5v1.5h-1.5zM185.0 366.3h1.2v1.2h-1.2z" fill="#721522"/>
<path d="M197.3 397.3h1.0v1.0h-1.0zM219.6 364.3h1.5v1.5h-1.5zM203.3 355.3h1.5v1.5h-1.5zM210.1 395.6h1.8v1.8h-1.8zM211.0 409.2h1.5v1.5h-1.5zM182.1 361.8h1.8v1.8h-1.8zM163.0 390.8h1.0v1.0h-1.0zM209.0 365.4h1.8v1.8h-1.8zM214.8 392.6h1.0v1.0h-1.0zM176.9 365.0h1.0v1.0h-1.0zM212.9 412.7h1.0v1.0h-1.0zM188.0 389.8h1.0v1.0h-1.0zM177.6 359.1h1.0v1.0h-1.0zM201.1 360.2h1.5v1.5h-1.5zM221.6 380.0h1.5v1.5h-1.5zM217.8 395.2h1.0v1.0h-1.0zM183.9 375.4h1.5v1.5h-1.5zM200.9 411.2h1.8v1.8h-1.8zM222.8 395.3h1.5v1.5h-1.5zM185.5 368.7h1.0v1.0h-1.0zM220.5 366.1h1.5v1.5h-1.5zM209.2 388.6h1.5v1.5h-1.5zM162.0 396.3h1.2v1.2h-1.2zM178.6 385.5h1.0v1.0h-1.0zM219.5 363.4h1.2v1.2h-1.2zM187.4 385.7h1.5v1.5h-1.5zM177.1 379.3h1.0v1.0h-1.0zM192.6 358.5h1.0v1.0h-1.0zM164.4 410.7h1.2v1.2h-1.2zM219.2 377.0h1.0v1.0h-1.0zM213.8 403.3h1.5v1.5h-1.5zM221.2 365.4h1.2v1.2h-1.2zM222.2 384.9h1.8v1.8h-1.8zM211.0 367.6h1.2v1.2h-1.2zM179.0 370.6h1.0v1.0h-1.0zM222.6 394.1h1.8v1.8h-1.8zM183.6 380.3h1.2v1.2h-1.2zM188.3 376.4h1.2v1.2h-1.2zM173.5 389.2h1.5v1.5h-1.5zM192.8 412.7h1.2v1.2h-1.2zM192.9 371.0h1.5v1.5h-1.5zM198.0 384.0h1.0v1.0h-1.0zM188.2 372.3h1.2v1.2h-1.2zM217.2 376.5h1.8v1.8h-1.8zM199.9 375.4h1.2v1.2h-1.2zM179.2 358.6h1.2v1.2h-1.2zM203.0 361.3h1.2v1.2h-1.2zM182.7 364.4h1.5v1.5h-1.5zM218.2 368.6h1.0v1.0h-1.0zM180.1 379.9h1.0v1.0h-1.0zM176.0 411.6h1.0v1.0h-1.0zM219.8 382.5h1.8v1.8h-1.8zM191.6 371.0h1.0v1.0h-1.0zM190.8 361.6h1.0v1.0h-1.0zM213.4 369.9h1.0v1.0h-1.0zM215.7 403.3h1.2v1.2h-1.2zM196.8 391.8h1.0v1.0h-1.0zM215.4 385.3h1.0v1.0h-1.0zM215.9 394.7h1.0v1.0h-1.0zM208.8 398.3h1.2v1.2h-1.2zM186.0 388.7h1.0v1.0h-1.0zM187.5 369.6h1.5v1.5h-1.5zM198.4 357.5h1.0v1.0h-1.0zM222.2 409.9h1.0v1.0h-1.0zM200.7 374.7h1.5v1.5h-1.5zM166.6 399.6h1.0v1.0h-1.0zM190.5 356.2h1.0v1.0h-1.0zM212.2 355.4h1.8v1.8h-1.8zM205.7 358.5h1.5v1.5h-1.5zM191.6 379.2h1.0v1.0h-1.0zM217.9 372.3h1.2v1.2h-1.2zM215.1 378.3h1.0v1.0h-1.0zM192.9 387.0h1.0v1.0h-1.0zM183.8 409.4h1.5v1.5h-1.5zM198.3 364.8h1.2v1.2h-1.2zM188.9 372.3h1.8v1.8h-1.8zM212.3 402.6h1.5v1.5h-1.5zM164.1 388.4h1.2v1.2h-1.2zM211.9 387.4h1.0v1.0h-1.0zM185.6 366.4h1.0v1.0h-1.0zM180.5 383.2h1.0v1.0h-1.0zM174.1 373.7h1.2v1.2h-1.2zM190.2 370.3h1.8v1.8h-1.8zM168.2 407.3h1.5v1.5h-1.5zM184.8 369.4h1.5v1.5h-1.5zM218.8 387.1h1.5v1.5h-1.5zM179.3 358.8h1.8v1.8h-1.8zM210.8 357.5h1.0v1.0h-1.0zM207.9 403.5h1.5v1.5h-1.5zM219.5 408.7h1.8v1.8h-1.8zM202.3 377.8h1.0v1.0h-1.0zM205.1 394.8h1.0v1.0h-1.0zM193.2 366.4h1.5v1.5h-1.5zM181.3 378.9h1.0v1.0h-1.0zM204.7 400.7h1.5v1.5h-1.5zM173.4 380.7h1.2v1.2h-1.2zM213.8 390.4h1.5v1.5h-1.5zM191.6 391.0h1.5v1.5h-1.5zM179.7 398.4h1.5v1.5h-1.5z" fill="#a01c2c"/>
<path d="M205.5 394.0h1.8v1.8h-1.8zM214.8 357.6h1.0v1.0h-1.0zM198.3 382.2h1.8v1.8h-1.8zM222.6 355.1h1.2v1.2h-1.2zM207.3 402.7h1.0v1.0h-1.0zM200.5 371.0h1.2v1.2h-1.2zM212.0 403.0h1.5v1.5h-1.5zM184.5 356.1h1.5v1.5h-1.5zM221.7 365.4h1.2v1.2h-1.2zM204.5 380.8h1.2v1.2h-1.2zM213.2 380.6h1.0v1.0h-1.0zM183.6 388.7h1.0v1.0h-1.0zM207.2 362.2h1.5v1.5h-1.5zM200.3 379.1h1.0v1.0h-1.0zM195.3 384.4h1.5v1.5h-1.5zM193.9 373.1h1.5v1.5h-1.5zM216.1 360.9h1.5v1.5h-1.5zM183.0 354.6h1.2v1.2h-1.2zM214.5 391.4h1.5v1.5h-1.5zM189.0 374.9h1.2v1.2h-1.2zM204.4 411.1h1.5v1.5h-1.5zM193.4 403.6h1.8v1.8h-1.8zM213.4 355.3h1.0v1.0h-1.0zM210.8 373.6h1.5v1.5h-1.5zM192.2 407.3h1.0v1.0h-1.0zM219.8 380.6h1.0v1.0h-1.0zM210.9 373.7h1.8v1.8h-1.8zM212.1 361.2h1.5v1.5h-1.5zM210.5 372.3h1.5v1.5h-1.5zM213.2 378.3h1.2v1.2h-1.2zM207.5 379.8h1.0v1.0h-1.0zM211.7 393.1h1.5v1.5h-1.5zM209.0 364.8h1.5v1.5h-1.5zM175.7 381.3h1.8v1.8h-1.8zM166.7 389.3h1.8v1.8h-1.8zM204.3 354.1h1.2v1.2h-1.2zM174.5 362.1h1.0v1.0h-1.0zM199.6 394.9h1.0v1.0h-1.0zM170.5 389.2h1.8v1.8h-1.8zM193.4 413.2h1.5v1.5h-1.5zM190.0 412.4h1.5v1.5h-1.5zM197.5 360.0h1.5v1.5h-1.5zM190.7 413.4h1.8v1.8h-1.8zM205.8 363.2h1.8v1.8h-1.8zM180.4 405.9h1.8v1.8h-1.8zM212.4 382.9h1.5v1.5h-1.5zM217.5 391.9h1.8v1.8h-1.8zM187.4 375.0h1.0v1.0h-1.0zM198.9 403.0h1.2v1.2h-1.2zM191.3 397.6h1.0v1.0h-1.0zM220.3 372.4h1.2v1.2h-1.2zM206.3 395.0h1.8v1.8h-1.8zM210.8 403.8h1.5v1.5h-1.5zM186.7 390.9h1.5v1.5h-1.5zM209.4 381.0h1.8v1.8h-1.8zM201.5 360.0h1.5v1.5h-1.5zM172.9 397.6h1.0v1.0h-1.0zM187.8 370.5h1.0v1.0h-1.0zM220.4 376.8h1.2v1.2h-1.2zM218.9 357.1h1.8v1.8h-1.8zM215.2 377.3h1.2v1.2h-1.2zM185.6 360.8h1.5v1.5h-1.5zM209.4 406.4h1.5v1.5h-1.5zM178.3 380.0h1.5v1.5h-1.5zM187.4 364.0h1.2v1.2h-1.2zM220.7 386.1h1.5v1.5h-1.5zM193.7 407.2h1.0v1.0h-1.0zM201.8 403.7h1.5v1.5h-1.5zM166.8 370.5h1.0v1.0h-1.0zM217.9 367.4h1.0v1.0h-1.0zM206.6 392.2h1.8v1.8h-1.8zM176.5 409.7h1.0v1.0h-1.0zM204.4 413.6h1.0v1.0h-1.0zM216.2 393.3h1.5v1.5h-1.5zM213.3 401.0h1.8v1.8h-1.8zM204.7 378.0h1.5v1.5h-1.5zM192.4 366.4h1.0v1.0h-1.0zM192.0 373.5h1.8v1.8h-1.8zM210.2 394.9h1.5v1.5h-1.5zM219.0 402.1h1.8v1.8h-1.8zM218.9 359.7h1.5v1.5h-1.5zM184.2 389.4h1.8v1.8h-1.8zM198.4 370.5h1.5v1.5h-1.5zM181.0 386.2h1.0v1.0h-1.0z" fill="#d42a36"/>
<rect x="161.50" y="417.20" width="62.70" height="61.80" fill="#0c0c0c" />
<circle cx="221.1" cy="426.2" r="0.41" fill="#8a9a8a" fill-opacity="0.47"/><circle cx="169.4" cy="457.3" r="0.50" fill="#6a8a6a" fill-opacity="0.49"/><circle cx="221.2" cy="437.1" r="0.58" fill="#8a9a8a" fill-opacity="0.68"/><circle cx="165.0" cy="471.3" r="0.58" fill="#8a9a8a" fill-opacity="0.57"/><circle cx="173.1" cy="424.5" r="0.56" fill="#6a8a6a" fill-opacity="0.68"/><circle cx="199.8" cy="433.4" r="0.69" fill="#8a9a8a" fill-opacity="0.76"/><circle cx="215.7" cy="475.8" r="0.55" fill="#8a9a8a" fill-opacity="0.73"/><circle cx="203.2" cy="428.9" r="0.41" fill="#6a8a6a" fill-opacity="0.57"/><circle cx="177.5" cy="435.0" r="0.66" fill="#8a9a8a" fill-opacity="0.66"/><circle cx="218.5" cy="436.4" r="0.51" fill="#6a8a6a" fill-opacity="0.52"/><circle cx="198.8" cy="450.7" r="0.53" fill="#8a9a8a" fill-opacity="0.44"/><circle cx="223.5" cy="439.3" r="0.53" fill="#8a9a8a" fill-opacity="0.42"/><circle cx="213.9" cy="429.7" r="0.47" fill="#6a8a6a" fill-opacity="0.44"/><circle cx="217.3" cy="428.1" r="0.56" fill="#8a9a8a" fill-opacity="0.47"/><circle cx="218.1" cy="456.0" r="0.53" fill="#6a8a6a" fill-opacity="0.61"/><circle cx="211.1" cy="457.0" r="0.46" fill="#6a8a6a" fill-opacity="0.42"/><circle cx="187.3" cy="468.0" r="0.68" fill="#8a9a8a" fill-opacity="0.42"/><circle cx="169.4" cy="460.7" r="0.44" fill="#8a9a8a" fill-opacity="0.80"/><circle cx="207.9" cy="446.5" r="0.62" fill="#8a9a8a" fill-opacity="0.78"/><circle cx="168.8" cy="466.8" r="0.48" fill="#6a8a6a" fill-opacity="0.41"/><circle cx="192.9" cy="456.3" r="0.50" fill="#6a8a6a" fill-opacity="0.65"/><circle cx="198.8" cy="460.3" r="0.45" fill="#6a8a6a" fill-opacity="0.79"/>
<text transform="translate(19.20,381.70) rotate(-90)" font-size="10.5" text-anchor="middle" fill="#cc2e34"  stroke="#cc2e34" stroke-width="0.22">DAPI</text>
<text transform="translate(29.00,382.90) rotate(-90)" font-size="11" text-anchor="middle" fill="#8dc05a"  stroke="#8dc05a" stroke-width="0.22">TUNEL</text>
<text transform="translate(29.60,445.60) rotate(-90)" font-size="11" text-anchor="middle" fill="#8dc05a"  stroke="#8dc05a" stroke-width="0.22">TUNEL</text>
<text x="93.60" y="477.30" font-size="11" text-anchor="end" fill="#f2f2f2"  stroke="#f2f2f2" stroke-width="0.22">Control</text>
<text x="158.20" y="477.30" font-size="11" text-anchor="end" fill="#f2f2f2"  stroke="#f2f2f2" stroke-width="0.22">[B/+]</text>
<text x="222.80" y="477.30" font-size="11" text-anchor="end" fill="#f2f2f2"  stroke="#f2f2f2" stroke-width="0.22">[B/B]</text>
<line x1="277.90" y1="358.55" x2="277.90" y2="442.15" stroke="#141414" stroke-width="1.3"/>
<line x1="274.80" y1="359.10" x2="277.90" y2="359.10" stroke="#141414" stroke-width="1.3"/>
<text x="273.30" y="363.01" font-size="10.8" text-anchor="end" fill="#161616"  stroke="#161616" stroke-width="0.22">20</text>
<line x1="274.80" y1="379.80" x2="277.90" y2="379.80" stroke="#141414" stroke-width="1.3"/>
<text x="273.30" y="383.71" font-size="10.8" text-anchor="end" fill="#161616"  stroke="#161616" stroke-width="0.22">15</text>
<line x1="274.80" y1="400.40" x2="277.90" y2="400.40" stroke="#141414" stroke-width="1.3"/>
<text x="273.30" y="404.31" font-size="10.8" text-anchor="end" fill="#161616"  stroke="#161616" stroke-width="0.22">10</text>
<line x1="274.80" y1="421.10" x2="277.90" y2="421.10" stroke="#141414" stroke-width="1.3"/>
<text x="273.30" y="425.01" font-size="10.8" text-anchor="end" fill="#161616"  stroke="#161616" stroke-width="0.22">5</text>
<line x1="274.80" y1="441.60" x2="277.90" y2="441.60" stroke="#141414" stroke-width="1.3"/>
<text x="273.30" y="445.51" font-size="10.8" text-anchor="end" fill="#161616"  stroke="#161616" stroke-width="0.22">0</text>
<line x1="277.50" y1="441.50" x2="418.70" y2="441.50" stroke="#141414" stroke-width="1.3"/>
<rect x="281.72" y="433.43" width="12.55" height="7.85" fill="#0e0e0e" stroke="#0e0e0e" stroke-width="1.65"/>
<line x1="308.20" y1="385.00" x2="308.20" y2="406.90" stroke="#141414" stroke-width="1.35"/>
<line x1="304.20" y1="385.75" x2="312.20" y2="385.75" stroke="#141414" stroke-width="1.6"/>
<rect x="301.93" y="407.22" width="12.55" height="34.05" fill="#ffffff" stroke="#0e0e0e" stroke-width="1.65"/>
<line x1="328.40" y1="365.80" x2="328.40" y2="380.80" stroke="#141414" stroke-width="1.35"/>
<line x1="324.40" y1="366.55" x2="332.40" y2="366.55" stroke="#141414" stroke-width="1.6"/>
<rect x="322.12" y="381.12" width="12.55" height="60.15" fill="#d8d8d8" stroke="#0e0e0e" stroke-width="1.65"/>
<rect x="362.43" y="439.43" width="12.25" height="1.85" fill="#0e0e0e" stroke="#0e0e0e" stroke-width="1.65"/>
<line x1="388.90" y1="432.80" x2="388.90" y2="434.60" stroke="#141414" stroke-width="1.35"/>
<line x1="384.90" y1="433.55" x2="392.90" y2="433.55" stroke="#141414" stroke-width="1.6"/>
<rect x="382.82" y="434.93" width="12.15" height="6.35" fill="#ffffff" stroke="#0e0e0e" stroke-width="1.65"/>
<line x1="409.10" y1="423.90" x2="409.10" y2="425.80" stroke="#141414" stroke-width="1.35"/>
<line x1="405.10" y1="424.65" x2="413.10" y2="424.65" stroke="#141414" stroke-width="1.6"/>
<rect x="403.02" y="426.12" width="12.15" height="15.15" fill="#d8d8d8" stroke="#0e0e0e" stroke-width="1.65"/>
<text transform="translate(291.10,444.60) rotate(-90)" font-size="11" text-anchor="end" fill="#161616"  stroke="#161616" stroke-width="0.22">Control</text>
<text transform="translate(311.30,444.60) rotate(-90)" font-size="11" text-anchor="end" fill="#161616"  stroke="#161616" stroke-width="0.22">[B/+]</text>
<text transform="translate(331.50,444.60) rotate(-90)" font-size="11" text-anchor="end" fill="#161616"  stroke="#161616" stroke-width="0.22">[B/B]</text>
<text transform="translate(371.65,444.60) rotate(-90)" font-size="11" text-anchor="end" fill="#161616"  stroke="#161616" stroke-width="0.22">Control</text>
<text transform="translate(392.00,444.60) rotate(-90)" font-size="11" text-anchor="end" fill="#161616"  stroke="#161616" stroke-width="0.22">[B/+]</text>
<text transform="translate(412.20,444.60) rotate(-90)" font-size="11" text-anchor="end" fill="#161616"  stroke="#161616" stroke-width="0.22">[B/B]</text>
<line x1="368.30" y1="413.40" x2="409.20" y2="413.40" stroke="#1e1e1e" stroke-width="1"/>
<line x1="408.70" y1="413.40" x2="408.70" y2="416.00" stroke="#1e1e1e" stroke-width="1"/>
<text x="383.20" y="416.93" font-size="10" text-anchor="middle" fill="#161616"  stroke="#161616" stroke-width="0.22">*</text>
<text x="388.25" y="416.93" font-size="10" text-anchor="middle" fill="#161616"  stroke="#161616" stroke-width="0.22">*</text>
<text x="393.30" y="416.93" font-size="10" text-anchor="middle" fill="#161616"  stroke="#161616" stroke-width="0.22">*</text>
<line x1="368.30" y1="423.40" x2="388.30" y2="423.40" stroke="#1e1e1e" stroke-width="1"/>
<line x1="387.80" y1="423.40" x2="387.80" y2="426.00" stroke="#1e1e1e" stroke-width="1"/>
<text x="376.00" y="426.83" font-size="10" text-anchor="middle" fill="#161616"  stroke="#161616" stroke-width="0.22">*</text>
<text x="381.10" y="426.83" font-size="10" text-anchor="middle" fill="#161616"  stroke="#161616" stroke-width="0.22">*</text>
<text x="308.40" y="491.30" font-size="11" text-anchor="middle" fill="#161616"  stroke="#161616" stroke-width="0.22">Day 10</text>
<text x="387.00" y="491.30" font-size="11" text-anchor="middle" fill="#161616"  stroke="#161616" stroke-width="0.22">Week 7</text>
<text transform="translate(244.80,401.30) rotate(-90)" font-size="11" text-anchor="middle" fill="#161616"  stroke="#161616" stroke-width="0.22">% TUNEL+ cells</text>
<text transform="translate(258.00,401.50) rotate(-90)" font-size="11" text-anchor="middle" fill="#161616"  stroke="#161616" stroke-width="0.22">in bone marrow</text>
<text x="460.40" y="470.53" font-size="10" text-anchor="middle" fill="#161616"  stroke="#161616" stroke-width="0.22">*</text>
<text x="462.3" y="470.4" font-size="11.2" fill="#161616" stroke="#161616" stroke-width="0.22"><tspan font-style="italic">P</tspan> &lt;0.05</text>
<text x="455.40" y="480.33" font-size="10" text-anchor="middle" fill="#161616"  stroke="#161616" stroke-width="0.22">*</text>
<text x="460.40" y="480.33" font-size="10" text-anchor="middle" fill="#161616"  stroke="#161616" stroke-width="0.22">*</text>
<text x="462.3" y="480.2" font-size="11.2" fill="#161616" stroke="#161616" stroke-width="0.22"><tspan font-style="italic">P</tspan> &lt;0.01</text>
<text x="450.40" y="489.93" font-size="10" text-anchor="middle" fill="#161616"  stroke="#161616" stroke-width="0.22">*</text>
<text x="455.40" y="489.93" font-size="10" text-anchor="middle" fill="#161616"  stroke="#161616" stroke-width="0.22">*</text>
<text x="460.40" y="489.93" font-size="10" text-anchor="middle" fill="#161616"  stroke="#161616" stroke-width="0.22">*</text>
<text x="462.3" y="489.8" font-size="11.2" fill="#161616" stroke="#161616" stroke-width="0.22"><tspan font-style="italic">P</tspan> &lt;0.001</text>
</svg>
</body></html>
